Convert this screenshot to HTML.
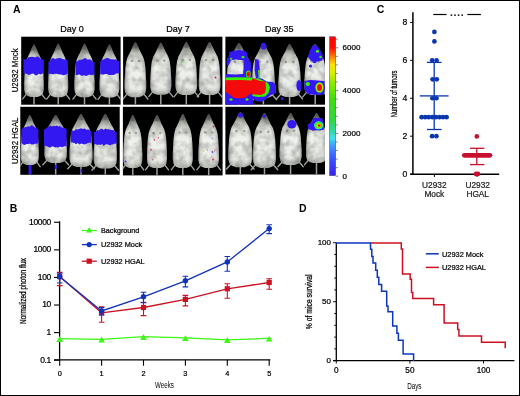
<!DOCTYPE html>
<html><head><meta charset="utf-8"><style>
html,body{margin:0;padding:0;background:#fff;}
svg{display:block;will-change:transform;}
text{font-family:"Liberation Sans",sans-serif;}
</style></head><body>
<svg width="520" height="396" viewBox="0 0 520 396" font-family="Liberation Sans, sans-serif">
<rect width="520" height="396" fill="#fff"/>
<text x="13" y="13.2" font-size="10.5" text-anchor="start" font-weight="bold" fill="#000" >A</text>
<text x="71.9" y="32.1" font-size="9" text-anchor="middle" font-weight="normal" fill="#000" stroke="#000" stroke-width="0.22" >Day 0</text>
<text x="177.9" y="32.1" font-size="9" text-anchor="middle" font-weight="normal" fill="#000" stroke="#000" stroke-width="0.22" >Day 7</text>
<text x="279.3" y="32.1" font-size="9" text-anchor="middle" font-weight="normal" fill="#000" stroke="#000" stroke-width="0.22" >Day 35</text>
<g transform="translate(18.1,70.4) rotate(-90) scale(0.91,1)"><text x="0" y="0" font-size="8.6" text-anchor="middle" stroke="#000" stroke-width="0.2">U2932 Mock</text></g>
<g transform="translate(18.1,140.8) rotate(-90) scale(0.91,1)"><text x="0" y="0" font-size="8.6" text-anchor="middle" stroke="#000" stroke-width="0.2">U2932 HGAL</text></g>
<rect x="21.2" y="36.7" width="99.39999999999999" height="68.0" fill="#000"/>
<rect x="123.1" y="36.7" width="99.30000000000001" height="68.0" fill="#000"/>
<rect x="225.4" y="36.7" width="99.6" height="68.0" fill="#000"/>
<rect x="20.3" y="106.8" width="99.4" height="68.00000000000001" fill="#000"/>
<rect x="122.9" y="106.8" width="99.69999999999999" height="68.60000000000001" fill="#000"/>
<rect x="225.4" y="106.8" width="99.6" height="67.7" fill="#000"/>
<defs><linearGradient id="mv" x1="0" y1="0" x2="0" y2="1">
<stop offset="0" stop-color="#555953"/><stop offset="0.1" stop-color="#8a8e88"/><stop offset="0.2" stop-color="#c0c3bc"/><stop offset="0.32" stop-color="#e2e5de"/><stop offset="0.5" stop-color="#f0f2ee"/><stop offset="0.85" stop-color="#e8eae5"/><stop offset="1" stop-color="#b4b8b1"/></linearGradient>
<filter id="fur" x="0" y="0" width="1" height="1" color-interpolation-filters="sRGB">
<feTurbulence type="fractalNoise" baseFrequency="0.14" numOctaves="2" seed="7"/>
<feColorMatrix type="matrix" values="0 0 0 0 0  0 0 0 0 0  0 0 0 0 0  1.5 0 0 0 -0.55"/>
</filter>
<linearGradient id="mh" x1="0" y1="0" x2="1" y2="0">
<stop offset="0" stop-color="#000" stop-opacity="0.4"/><stop offset="0.1" stop-color="#000" stop-opacity="0.12"/><stop offset="0.25" stop-color="#000" stop-opacity="0"/><stop offset="0.75" stop-color="#000" stop-opacity="0"/><stop offset="0.9" stop-color="#000" stop-opacity="0.12"/><stop offset="1" stop-color="#000" stop-opacity="0.4"/></linearGradient></defs>
<clipPath id="blk0"><rect x="21.2" y="36.7" width="99.40" height="68.00"/></clipPath>
<clipPath id="blk1"><rect x="123.1" y="36.7" width="99.30" height="68.00"/></clipPath>
<clipPath id="blk2"><rect x="225.4" y="36.7" width="99.60" height="68.00"/></clipPath>
<clipPath id="blk3"><rect x="20.3" y="106.8" width="99.40" height="68.00"/></clipPath>
<clipPath id="blk4"><rect x="122.9" y="106.8" width="99.70" height="68.60"/></clipPath>
<clipPath id="blk5"><rect x="225.4" y="106.8" width="99.60" height="67.70"/></clipPath>
<g clip-path="url(#blk0)">
<g>
<path d="M28.12,91.85 L22.73,98.90 M39.88,91.85 L45.27,98.90" stroke="#a4a8a1" stroke-width="1.3" stroke-linecap="round" fill="none"/>
<path d="M34.00,96.10 Q34.00,100.90 34.00,104.70" stroke="#9da19a" stroke-width="1.5" fill="none"/>
<clipPath id="c1"><path d="M34.49,44.60 L35.16,45.91 L35.80,47.23 L36.37,48.54 L36.94,49.85 L37.47,51.16 L38.00,52.48 L38.61,53.79 L39.26,55.10 L39.90,56.41 L40.52,57.73 L41.13,59.04 L41.52,60.35 L41.86,61.66 L42.20,62.98 L42.43,64.29 L42.60,65.60 L42.78,66.91 L42.95,68.22 L43.06,69.54 L43.15,70.85 L43.23,72.16 L43.31,73.48 L43.39,74.79 L43.46,76.10 L43.53,77.41 L43.60,78.72 L43.67,80.04 L43.74,81.35 L43.80,82.66 L43.80,83.97 L43.80,85.29 L43.80,86.60 L43.80,87.91 L43.71,89.22 L43.50,90.54 L43.29,91.85 L42.94,93.16 L42.06,94.47 L40.70,95.79 L37.43,97.10 L30.57,97.10 L27.30,95.79 L25.94,94.47 L25.06,93.16 L24.71,91.85 L24.50,90.54 L24.29,89.22 L24.20,87.91 L24.20,86.60 L24.20,85.29 L24.20,83.97 L24.20,82.66 L24.26,81.35 L24.33,80.04 L24.40,78.72 L24.47,77.41 L24.54,76.10 L24.61,74.79 L24.69,73.48 L24.77,72.16 L24.85,70.85 L24.93,69.54 L25.05,68.22 L25.22,66.91 L25.40,65.60 L25.57,64.29 L25.80,62.98 L26.14,61.66 L26.48,60.35 L26.87,59.04 L27.48,57.73 L28.10,56.41 L28.74,55.10 L29.39,53.79 L30.00,52.48 L30.53,51.16 L31.06,49.85 L31.63,48.54 L32.20,47.23 L32.84,45.91 L33.51,44.60Z"/></clipPath>
<path d="M34.49,44.60 L35.16,45.91 L35.80,47.23 L36.37,48.54 L36.94,49.85 L37.47,51.16 L38.00,52.48 L38.61,53.79 L39.26,55.10 L39.90,56.41 L40.52,57.73 L41.13,59.04 L41.52,60.35 L41.86,61.66 L42.20,62.98 L42.43,64.29 L42.60,65.60 L42.78,66.91 L42.95,68.22 L43.06,69.54 L43.15,70.85 L43.23,72.16 L43.31,73.48 L43.39,74.79 L43.46,76.10 L43.53,77.41 L43.60,78.72 L43.67,80.04 L43.74,81.35 L43.80,82.66 L43.80,83.97 L43.80,85.29 L43.80,86.60 L43.80,87.91 L43.71,89.22 L43.50,90.54 L43.29,91.85 L42.94,93.16 L42.06,94.47 L40.70,95.79 L37.43,97.10 L30.57,97.10 L27.30,95.79 L25.94,94.47 L25.06,93.16 L24.71,91.85 L24.50,90.54 L24.29,89.22 L24.20,87.91 L24.20,86.60 L24.20,85.29 L24.20,83.97 L24.20,82.66 L24.26,81.35 L24.33,80.04 L24.40,78.72 L24.47,77.41 L24.54,76.10 L24.61,74.79 L24.69,73.48 L24.77,72.16 L24.85,70.85 L24.93,69.54 L25.05,68.22 L25.22,66.91 L25.40,65.60 L25.57,64.29 L25.80,62.98 L26.14,61.66 L26.48,60.35 L26.87,59.04 L27.48,57.73 L28.10,56.41 L28.74,55.10 L29.39,53.79 L30.00,52.48 L30.53,51.16 L31.06,49.85 L31.63,48.54 L32.20,47.23 L32.84,45.91 L33.51,44.60Z" fill="url(#mv)"/>
<g clip-path="url(#c1)">
<rect x="23.71" y="44.60" width="20.58" height="52.50" fill="url(#mh)"/>
<rect x="23.71" y="44.60" width="20.58" height="52.50" filter="url(#fur)" opacity="0.32"/>
<ellipse cx="34.00" cy="47.23" rx="2.16" ry="3.68" fill="#3e423c" opacity="0.45"/>
<ellipse cx="31.06" cy="49.85" rx="1.2" ry="1.8" fill="#50544e" opacity="0.4"/>
<ellipse cx="36.94" cy="49.85" rx="1.2" ry="1.8" fill="#50544e" opacity="0.4"/>
<ellipse cx="30.77" cy="62.45" rx="1.3" ry="1.2" fill="#40443e" opacity="0.4"/>
<ellipse cx="37.23" cy="62.45" rx="1.3" ry="1.2" fill="#40443e" opacity="0.4"/>

</g>
</g>
<g>
<path d="M52.20,91.95 L46.70,99.10 M64.20,91.95 L69.70,99.10" stroke="#a4a8a1" stroke-width="1.3" stroke-linecap="round" fill="none"/>
<path d="M58.20,96.30 Q58.20,101.00 58.20,104.70" stroke="#9da19a" stroke-width="1.5" fill="none"/>
<clipPath id="c2"><path d="M58.70,43.80 L59.39,45.14 L60.03,46.47 L60.62,47.81 L61.20,49.15 L61.74,50.49 L62.28,51.82 L62.90,53.16 L63.57,54.50 L64.23,55.84 L64.85,57.17 L65.48,58.51 L65.88,59.85 L66.22,61.19 L66.56,62.52 L66.81,63.86 L66.98,65.20 L67.16,66.54 L67.33,67.88 L67.45,69.21 L67.53,70.55 L67.62,71.89 L67.70,73.22 L67.78,74.56 L67.86,75.90 L67.93,77.24 L68.00,78.57 L68.07,79.91 L68.14,81.25 L68.20,82.59 L68.20,83.92 L68.20,85.26 L68.20,86.60 L68.20,87.94 L68.11,89.28 L67.89,90.61 L67.67,91.95 L67.32,93.29 L66.42,94.62 L65.03,95.96 L61.70,97.30 L54.70,97.30 L51.37,95.96 L49.98,94.62 L49.08,93.29 L48.73,91.95 L48.51,90.61 L48.29,89.28 L48.20,87.94 L48.20,86.60 L48.20,85.26 L48.20,83.92 L48.20,82.59 L48.26,81.25 L48.33,79.91 L48.40,78.57 L48.47,77.24 L48.54,75.90 L48.62,74.56 L48.70,73.22 L48.78,71.89 L48.87,70.55 L48.95,69.21 L49.07,67.88 L49.25,66.54 L49.42,65.20 L49.59,63.86 L49.84,62.52 L50.18,61.19 L50.53,59.85 L50.93,58.51 L51.55,57.17 L52.18,55.84 L52.83,54.50 L53.50,53.16 L54.12,51.82 L54.66,50.49 L55.20,49.15 L55.78,47.81 L56.37,46.47 L57.01,45.14 L57.70,43.80Z"/></clipPath>
<path d="M58.70,43.80 L59.39,45.14 L60.03,46.47 L60.62,47.81 L61.20,49.15 L61.74,50.49 L62.28,51.82 L62.90,53.16 L63.57,54.50 L64.23,55.84 L64.85,57.17 L65.48,58.51 L65.88,59.85 L66.22,61.19 L66.56,62.52 L66.81,63.86 L66.98,65.20 L67.16,66.54 L67.33,67.88 L67.45,69.21 L67.53,70.55 L67.62,71.89 L67.70,73.22 L67.78,74.56 L67.86,75.90 L67.93,77.24 L68.00,78.57 L68.07,79.91 L68.14,81.25 L68.20,82.59 L68.20,83.92 L68.20,85.26 L68.20,86.60 L68.20,87.94 L68.11,89.28 L67.89,90.61 L67.67,91.95 L67.32,93.29 L66.42,94.62 L65.03,95.96 L61.70,97.30 L54.70,97.30 L51.37,95.96 L49.98,94.62 L49.08,93.29 L48.73,91.95 L48.51,90.61 L48.29,89.28 L48.20,87.94 L48.20,86.60 L48.20,85.26 L48.20,83.92 L48.20,82.59 L48.26,81.25 L48.33,79.91 L48.40,78.57 L48.47,77.24 L48.54,75.90 L48.62,74.56 L48.70,73.22 L48.78,71.89 L48.87,70.55 L48.95,69.21 L49.07,67.88 L49.25,66.54 L49.42,65.20 L49.59,63.86 L49.84,62.52 L50.18,61.19 L50.53,59.85 L50.93,58.51 L51.55,57.17 L52.18,55.84 L52.83,54.50 L53.50,53.16 L54.12,51.82 L54.66,50.49 L55.20,49.15 L55.78,47.81 L56.37,46.47 L57.01,45.14 L57.70,43.80Z" fill="url(#mv)"/>
<g clip-path="url(#c2)">
<rect x="47.70" y="43.80" width="21.00" height="53.50" fill="url(#mh)"/>
<rect x="47.70" y="43.80" width="21.00" height="53.50" filter="url(#fur)" opacity="0.32"/>
<ellipse cx="58.20" cy="46.47" rx="2.20" ry="3.75" fill="#3e423c" opacity="0.45"/>
<ellipse cx="55.20" cy="49.15" rx="1.2" ry="1.8" fill="#50544e" opacity="0.4"/>
<ellipse cx="61.20" cy="49.15" rx="1.2" ry="1.8" fill="#50544e" opacity="0.4"/>
<ellipse cx="54.90" cy="61.99" rx="1.3" ry="1.2" fill="#40443e" opacity="0.4"/>
<ellipse cx="61.50" cy="61.99" rx="1.3" ry="1.2" fill="#40443e" opacity="0.4"/>

</g>
</g>
<g>
<path d="M78.44,91.95 L72.89,99.10 M90.56,91.95 L96.11,99.10" stroke="#a4a8a1" stroke-width="1.3" stroke-linecap="round" fill="none"/>
<path d="M84.50,96.30 Q84.50,101.00 84.50,104.70" stroke="#9da19a" stroke-width="1.5" fill="none"/>
<clipPath id="c3"><path d="M85.00,43.80 L85.70,45.14 L86.35,46.47 L86.94,47.81 L87.53,49.15 L88.08,50.49 L88.62,51.82 L89.25,53.16 L89.92,54.50 L90.59,55.84 L91.22,57.17 L91.85,58.51 L92.25,59.85 L92.60,61.19 L92.95,62.52 L93.19,63.86 L93.37,65.20 L93.54,66.54 L93.72,67.88 L93.84,69.21 L93.93,70.55 L94.01,71.89 L94.09,73.22 L94.18,74.56 L94.25,75.90 L94.33,77.24 L94.40,78.57 L94.47,79.91 L94.54,81.25 L94.60,82.59 L94.60,83.92 L94.60,85.26 L94.60,86.60 L94.60,87.94 L94.51,89.28 L94.29,90.61 L94.07,91.95 L93.71,93.29 L92.80,94.62 L91.40,95.96 L88.03,97.30 L80.97,97.30 L77.60,95.96 L76.20,94.62 L75.29,93.29 L74.93,91.95 L74.71,90.61 L74.49,89.28 L74.40,87.94 L74.40,86.60 L74.40,85.26 L74.40,83.92 L74.40,82.59 L74.46,81.25 L74.53,79.91 L74.60,78.57 L74.67,77.24 L74.75,75.90 L74.82,74.56 L74.91,73.22 L74.99,71.89 L75.07,70.55 L75.16,69.21 L75.28,67.88 L75.46,66.54 L75.63,65.20 L75.81,63.86 L76.05,62.52 L76.40,61.19 L76.75,59.85 L77.15,58.51 L77.78,57.17 L78.41,55.84 L79.08,54.50 L79.75,53.16 L80.38,51.82 L80.92,50.49 L81.47,49.15 L82.06,47.81 L82.65,46.47 L83.30,45.14 L84.00,43.80Z"/></clipPath>
<path d="M85.00,43.80 L85.70,45.14 L86.35,46.47 L86.94,47.81 L87.53,49.15 L88.08,50.49 L88.62,51.82 L89.25,53.16 L89.92,54.50 L90.59,55.84 L91.22,57.17 L91.85,58.51 L92.25,59.85 L92.60,61.19 L92.95,62.52 L93.19,63.86 L93.37,65.20 L93.54,66.54 L93.72,67.88 L93.84,69.21 L93.93,70.55 L94.01,71.89 L94.09,73.22 L94.18,74.56 L94.25,75.90 L94.33,77.24 L94.40,78.57 L94.47,79.91 L94.54,81.25 L94.60,82.59 L94.60,83.92 L94.60,85.26 L94.60,86.60 L94.60,87.94 L94.51,89.28 L94.29,90.61 L94.07,91.95 L93.71,93.29 L92.80,94.62 L91.40,95.96 L88.03,97.30 L80.97,97.30 L77.60,95.96 L76.20,94.62 L75.29,93.29 L74.93,91.95 L74.71,90.61 L74.49,89.28 L74.40,87.94 L74.40,86.60 L74.40,85.26 L74.40,83.92 L74.40,82.59 L74.46,81.25 L74.53,79.91 L74.60,78.57 L74.67,77.24 L74.75,75.90 L74.82,74.56 L74.91,73.22 L74.99,71.89 L75.07,70.55 L75.16,69.21 L75.28,67.88 L75.46,66.54 L75.63,65.20 L75.81,63.86 L76.05,62.52 L76.40,61.19 L76.75,59.85 L77.15,58.51 L77.78,57.17 L78.41,55.84 L79.08,54.50 L79.75,53.16 L80.38,51.82 L80.92,50.49 L81.47,49.15 L82.06,47.81 L82.65,46.47 L83.30,45.14 L84.00,43.80Z" fill="url(#mv)"/>
<g clip-path="url(#c3)">
<rect x="73.89" y="43.80" width="21.21" height="53.50" fill="url(#mh)"/>
<rect x="73.89" y="43.80" width="21.21" height="53.50" filter="url(#fur)" opacity="0.32"/>
<ellipse cx="84.50" cy="46.47" rx="2.22" ry="3.75" fill="#3e423c" opacity="0.45"/>
<ellipse cx="81.47" cy="49.15" rx="1.2" ry="1.8" fill="#50544e" opacity="0.4"/>
<ellipse cx="87.53" cy="49.15" rx="1.2" ry="1.8" fill="#50544e" opacity="0.4"/>
<ellipse cx="81.17" cy="61.99" rx="1.3" ry="1.2" fill="#40443e" opacity="0.4"/>
<ellipse cx="87.83" cy="61.99" rx="1.3" ry="1.2" fill="#40443e" opacity="0.4"/>

</g>
</g>
<g>
<path d="M103.46,92.30 L98.02,99.40 M115.34,92.30 L120.79,99.40" stroke="#a4a8a1" stroke-width="1.3" stroke-linecap="round" fill="none"/>
<path d="M109.40,96.60 Q109.40,101.15 109.40,104.70" stroke="#9da19a" stroke-width="1.5" fill="none"/>
<clipPath id="c4"><path d="M109.90,44.60 L110.58,45.93 L111.22,47.25 L111.79,48.58 L112.37,49.90 L112.91,51.23 L113.44,52.55 L114.05,53.88 L114.71,55.20 L115.36,56.53 L115.98,57.85 L116.60,59.18 L117.00,60.50 L117.34,61.83 L117.68,63.15 L117.92,64.47 L118.09,65.80 L118.27,67.12 L118.44,68.45 L118.56,69.78 L118.64,71.10 L118.72,72.43 L118.81,73.75 L118.89,75.08 L118.96,76.40 L119.03,77.72 L119.10,79.05 L119.17,80.38 L119.24,81.70 L119.30,83.03 L119.30,84.35 L119.30,85.68 L119.30,87.00 L119.30,88.32 L119.21,89.65 L119.00,90.97 L118.78,92.30 L118.43,93.62 L117.54,94.95 L116.17,96.28 L112.87,97.60 L105.94,97.60 L102.64,96.28 L101.26,94.95 L100.37,93.62 L100.02,92.30 L99.80,90.97 L99.59,89.65 L99.50,88.32 L99.50,87.00 L99.50,85.68 L99.50,84.35 L99.50,83.03 L99.56,81.70 L99.63,80.38 L99.70,79.05 L99.77,77.72 L99.84,76.40 L99.91,75.08 L100.00,73.75 L100.08,72.43 L100.16,71.10 L100.24,69.78 L100.36,68.45 L100.53,67.12 L100.71,65.80 L100.88,64.47 L101.12,63.15 L101.46,61.83 L101.80,60.50 L102.20,59.18 L102.82,57.85 L103.44,56.53 L104.09,55.20 L104.75,53.88 L105.36,52.55 L105.89,51.23 L106.43,49.90 L107.01,48.58 L107.59,47.25 L108.22,45.93 L108.91,44.60Z"/></clipPath>
<path d="M109.90,44.60 L110.58,45.93 L111.22,47.25 L111.79,48.58 L112.37,49.90 L112.91,51.23 L113.44,52.55 L114.05,53.88 L114.71,55.20 L115.36,56.53 L115.98,57.85 L116.60,59.18 L117.00,60.50 L117.34,61.83 L117.68,63.15 L117.92,64.47 L118.09,65.80 L118.27,67.12 L118.44,68.45 L118.56,69.78 L118.64,71.10 L118.72,72.43 L118.81,73.75 L118.89,75.08 L118.96,76.40 L119.03,77.72 L119.10,79.05 L119.17,80.38 L119.24,81.70 L119.30,83.03 L119.30,84.35 L119.30,85.68 L119.30,87.00 L119.30,88.32 L119.21,89.65 L119.00,90.97 L118.78,92.30 L118.43,93.62 L117.54,94.95 L116.17,96.28 L112.87,97.60 L105.94,97.60 L102.64,96.28 L101.26,94.95 L100.37,93.62 L100.02,92.30 L99.80,90.97 L99.59,89.65 L99.50,88.32 L99.50,87.00 L99.50,85.68 L99.50,84.35 L99.50,83.03 L99.56,81.70 L99.63,80.38 L99.70,79.05 L99.77,77.72 L99.84,76.40 L99.91,75.08 L100.00,73.75 L100.08,72.43 L100.16,71.10 L100.24,69.78 L100.36,68.45 L100.53,67.12 L100.71,65.80 L100.88,64.47 L101.12,63.15 L101.46,61.83 L101.80,60.50 L102.20,59.18 L102.82,57.85 L103.44,56.53 L104.09,55.20 L104.75,53.88 L105.36,52.55 L105.89,51.23 L106.43,49.90 L107.01,48.58 L107.59,47.25 L108.22,45.93 L108.91,44.60Z" fill="url(#mv)"/>
<g clip-path="url(#c4)">
<rect x="99.01" y="44.60" width="20.79" height="53.00" fill="url(#mh)"/>
<rect x="99.01" y="44.60" width="20.79" height="53.00" filter="url(#fur)" opacity="0.32"/>
<ellipse cx="109.40" cy="47.25" rx="2.18" ry="3.71" fill="#3e423c" opacity="0.45"/>
<ellipse cx="106.43" cy="49.90" rx="1.2" ry="1.8" fill="#50544e" opacity="0.4"/>
<ellipse cx="112.37" cy="49.90" rx="1.2" ry="1.8" fill="#50544e" opacity="0.4"/>
<ellipse cx="106.13" cy="62.62" rx="1.3" ry="1.2" fill="#40443e" opacity="0.4"/>
<ellipse cx="112.67" cy="62.62" rx="1.3" ry="1.2" fill="#40443e" opacity="0.4"/>

</g>
</g>
<path d="M23.5,59.3 L25.2,59.6 L26.9,58.7 L28.6,57.2 L30.3,57.1 L32.0,56.8 L33.6,57.1 L35.3,57.4 L37.0,56.4 L38.7,56.8 L40.4,58.8 L42.1,58.9 L43.8,60.5 L43.8,72.8 L42.1,73.8 L40.4,74.5 L38.7,73.8 L37.0,75.2 L35.3,75.2 L33.6,73.7 L32.0,73.6 L30.3,74.5 L28.6,75.1 L26.9,73.9 L25.2,73.4 L23.5,73.6Z" fill="#3418f2"/>
<path d="M48.4,62.0 L50.0,61.0 L51.6,58.6 L53.2,58.1 L54.9,59.0 L56.5,58.5 L58.1,58.3 L59.7,57.7 L61.3,58.5 L62.9,59.0 L64.6,59.6 L66.2,59.6 L67.8,61.1 L67.8,73.6 L66.2,74.4 L64.6,75.1 L62.9,75.2 L61.3,74.6 L59.7,74.5 L58.1,74.2 L56.5,73.7 L54.9,73.7 L53.2,74.3 L51.6,73.9 L50.0,73.8 L48.4,74.5Z" fill="#3418f2"/>
<path d="M75.6,61.7 L77.3,61.2 L79.0,60.1 L80.8,59.8 L82.5,59.5 L84.2,58.2 L85.9,58.2 L87.6,59.8 L89.3,59.2 L91.1,59.8 L92.8,62.0 L94.5,62.1 L94.5,75.1 L92.8,74.7 L91.1,75.2 L89.3,74.5 L87.6,75.5 L85.9,76.0 L84.2,75.3 L82.5,75.7 L80.8,75.4 L79.0,74.2 L77.3,75.2 L75.6,74.7Z" fill="#3418f2"/>
<path d="M100.2,61.2 L101.9,59.9 L103.7,59.6 L105.4,58.5 L107.1,58.0 L108.8,58.3 L110.6,59.3 L112.3,59.3 L114.0,59.6 L115.7,59.3 L117.5,60.7 L119.2,61.3 L119.2,73.1 L117.5,73.3 L115.7,73.7 L114.0,75.1 L112.3,75.0 L110.6,75.0 L108.8,75.0 L107.1,73.9 L105.4,74.0 L103.7,74.4 L101.9,74.4 L100.2,74.3Z" fill="#3418f2"/>
</g>
<g clip-path="url(#blk1)">
<g>
<path d="M128.92,91.70 L122.98,99.00 M141.88,91.70 L147.82,99.00" stroke="#a4a8a1" stroke-width="1.3" stroke-linecap="round" fill="none"/>
<path d="M135.40,96.20 Q135.40,100.95 135.40,104.70" stroke="#9da19a" stroke-width="1.5" fill="none"/>
<clipPath id="c5"><path d="M135.94,42.20 L136.68,43.58 L137.38,44.95 L138.01,46.33 L138.64,47.70 L139.22,49.08 L139.81,50.45 L140.48,51.83 L141.20,53.20 L141.91,54.58 L142.58,55.95 L143.26,57.33 L143.69,58.70 L144.06,60.08 L144.43,61.45 L144.69,62.83 L144.88,64.20 L145.07,65.58 L145.26,66.95 L145.39,68.33 L145.48,69.70 L145.57,71.08 L145.66,72.45 L145.75,73.83 L145.83,75.20 L145.91,76.58 L145.98,77.95 L146.06,79.33 L146.14,80.70 L146.20,82.08 L146.20,83.45 L146.20,84.83 L146.20,86.20 L146.20,87.58 L146.11,88.95 L145.87,90.33 L145.63,91.70 L145.25,93.08 L144.28,94.45 L142.78,95.83 L139.18,97.20 L131.62,97.20 L128.02,95.83 L126.52,94.45 L125.55,93.08 L125.17,91.70 L124.93,90.33 L124.69,88.95 L124.60,87.58 L124.60,86.20 L124.60,84.83 L124.60,83.45 L124.60,82.08 L124.66,80.70 L124.74,79.33 L124.82,77.95 L124.89,76.58 L124.97,75.20 L125.05,73.83 L125.14,72.45 L125.23,71.08 L125.32,69.70 L125.41,68.33 L125.54,66.95 L125.73,65.58 L125.92,64.20 L126.11,62.83 L126.37,61.45 L126.74,60.08 L127.11,58.70 L127.54,57.33 L128.22,55.95 L128.89,54.58 L129.60,53.20 L130.32,51.83 L130.99,50.45 L131.58,49.08 L132.16,47.70 L132.79,46.33 L133.42,44.95 L134.12,43.58 L134.86,42.20Z"/></clipPath>
<path d="M135.94,42.20 L136.68,43.58 L137.38,44.95 L138.01,46.33 L138.64,47.70 L139.22,49.08 L139.81,50.45 L140.48,51.83 L141.20,53.20 L141.91,54.58 L142.58,55.95 L143.26,57.33 L143.69,58.70 L144.06,60.08 L144.43,61.45 L144.69,62.83 L144.88,64.20 L145.07,65.58 L145.26,66.95 L145.39,68.33 L145.48,69.70 L145.57,71.08 L145.66,72.45 L145.75,73.83 L145.83,75.20 L145.91,76.58 L145.98,77.95 L146.06,79.33 L146.14,80.70 L146.20,82.08 L146.20,83.45 L146.20,84.83 L146.20,86.20 L146.20,87.58 L146.11,88.95 L145.87,90.33 L145.63,91.70 L145.25,93.08 L144.28,94.45 L142.78,95.83 L139.18,97.20 L131.62,97.20 L128.02,95.83 L126.52,94.45 L125.55,93.08 L125.17,91.70 L124.93,90.33 L124.69,88.95 L124.60,87.58 L124.60,86.20 L124.60,84.83 L124.60,83.45 L124.60,82.08 L124.66,80.70 L124.74,79.33 L124.82,77.95 L124.89,76.58 L124.97,75.20 L125.05,73.83 L125.14,72.45 L125.23,71.08 L125.32,69.70 L125.41,68.33 L125.54,66.95 L125.73,65.58 L125.92,64.20 L126.11,62.83 L126.37,61.45 L126.74,60.08 L127.11,58.70 L127.54,57.33 L128.22,55.95 L128.89,54.58 L129.60,53.20 L130.32,51.83 L130.99,50.45 L131.58,49.08 L132.16,47.70 L132.79,46.33 L133.42,44.95 L134.12,43.58 L134.86,42.20Z" fill="url(#mv)"/>
<g clip-path="url(#c5)">
<rect x="124.06" y="42.20" width="22.68" height="55.00" fill="url(#mh)"/>
<rect x="124.06" y="42.20" width="22.68" height="55.00" filter="url(#fur)" opacity="0.32"/>
<ellipse cx="135.40" cy="44.95" rx="2.38" ry="3.85" fill="#3e423c" opacity="0.45"/>
<ellipse cx="132.16" cy="47.70" rx="1.2" ry="1.8" fill="#50544e" opacity="0.4"/>
<ellipse cx="138.64" cy="47.70" rx="1.2" ry="1.8" fill="#50544e" opacity="0.4"/>
<ellipse cx="131.84" cy="60.90" rx="1.3" ry="1.2" fill="#40443e" opacity="0.4"/>
<ellipse cx="138.96" cy="60.90" rx="1.3" ry="1.2" fill="#40443e" opacity="0.4"/>

</g>
</g>
<g>
<path d="M154.50,89.60 L148.73,96.60 M167.10,89.60 L172.88,96.60" stroke="#a4a8a1" stroke-width="1.3" stroke-linecap="round" fill="none"/>
<path d="M160.80,93.80 Q160.80,99.75 160.80,104.70" stroke="#9da19a" stroke-width="1.5" fill="none"/>
<clipPath id="c6"><path d="M161.33,42.80 L162.05,44.10 L162.73,45.40 L163.34,46.70 L163.95,48.00 L164.52,49.30 L165.09,50.60 L165.74,51.90 L166.44,53.20 L167.13,54.50 L167.78,55.80 L168.44,57.10 L168.86,58.40 L169.22,59.70 L169.58,61.00 L169.84,62.30 L170.02,63.60 L170.20,64.90 L170.39,66.20 L170.51,67.50 L170.60,68.80 L170.69,70.10 L170.78,71.40 L170.86,72.70 L170.94,74.00 L171.02,75.30 L171.09,76.60 L171.17,77.90 L171.24,79.20 L171.30,80.50 L171.30,81.80 L171.30,83.10 L171.30,84.40 L171.30,85.70 L171.21,87.00 L170.98,88.30 L170.75,89.60 L170.38,90.90 L169.43,92.20 L167.98,93.50 L164.48,94.80 L157.12,94.80 L153.62,93.50 L152.17,92.20 L151.22,90.90 L150.85,89.60 L150.62,88.30 L150.39,87.00 L150.30,85.70 L150.30,84.40 L150.30,83.10 L150.30,81.80 L150.30,80.50 L150.36,79.20 L150.44,77.90 L150.51,76.60 L150.59,75.30 L150.66,74.00 L150.74,72.70 L150.83,71.40 L150.91,70.10 L151.00,68.80 L151.09,67.50 L151.21,66.20 L151.40,64.90 L151.58,63.60 L151.76,62.30 L152.02,61.00 L152.38,59.70 L152.74,58.40 L153.16,57.10 L153.82,55.80 L154.47,54.50 L155.17,53.20 L155.87,51.90 L156.51,50.60 L157.08,49.30 L157.65,48.00 L158.26,46.70 L158.88,45.40 L159.55,44.10 L160.28,42.80Z"/></clipPath>
<path d="M161.33,42.80 L162.05,44.10 L162.73,45.40 L163.34,46.70 L163.95,48.00 L164.52,49.30 L165.09,50.60 L165.74,51.90 L166.44,53.20 L167.13,54.50 L167.78,55.80 L168.44,57.10 L168.86,58.40 L169.22,59.70 L169.58,61.00 L169.84,62.30 L170.02,63.60 L170.20,64.90 L170.39,66.20 L170.51,67.50 L170.60,68.80 L170.69,70.10 L170.78,71.40 L170.86,72.70 L170.94,74.00 L171.02,75.30 L171.09,76.60 L171.17,77.90 L171.24,79.20 L171.30,80.50 L171.30,81.80 L171.30,83.10 L171.30,84.40 L171.30,85.70 L171.21,87.00 L170.98,88.30 L170.75,89.60 L170.38,90.90 L169.43,92.20 L167.98,93.50 L164.48,94.80 L157.12,94.80 L153.62,93.50 L152.17,92.20 L151.22,90.90 L150.85,89.60 L150.62,88.30 L150.39,87.00 L150.30,85.70 L150.30,84.40 L150.30,83.10 L150.30,81.80 L150.30,80.50 L150.36,79.20 L150.44,77.90 L150.51,76.60 L150.59,75.30 L150.66,74.00 L150.74,72.70 L150.83,71.40 L150.91,70.10 L151.00,68.80 L151.09,67.50 L151.21,66.20 L151.40,64.90 L151.58,63.60 L151.76,62.30 L152.02,61.00 L152.38,59.70 L152.74,58.40 L153.16,57.10 L153.82,55.80 L154.47,54.50 L155.17,53.20 L155.87,51.90 L156.51,50.60 L157.08,49.30 L157.65,48.00 L158.26,46.70 L158.88,45.40 L159.55,44.10 L160.28,42.80Z" fill="url(#mv)"/>
<g clip-path="url(#c6)">
<rect x="149.78" y="42.80" width="22.05" height="52.00" fill="url(#mh)"/>
<rect x="149.78" y="42.80" width="22.05" height="52.00" filter="url(#fur)" opacity="0.32"/>
<ellipse cx="160.80" cy="45.40" rx="2.31" ry="3.64" fill="#3e423c" opacity="0.45"/>
<ellipse cx="157.65" cy="48.00" rx="1.2" ry="1.8" fill="#50544e" opacity="0.4"/>
<ellipse cx="163.95" cy="48.00" rx="1.2" ry="1.8" fill="#50544e" opacity="0.4"/>
<ellipse cx="157.34" cy="60.48" rx="1.3" ry="1.2" fill="#40443e" opacity="0.4"/>
<ellipse cx="164.27" cy="60.48" rx="1.3" ry="1.2" fill="#40443e" opacity="0.4"/>

</g>
</g>
<g>
<path d="M179.82,89.70 L173.88,96.80 M192.78,89.70 L198.72,96.80" stroke="#a4a8a1" stroke-width="1.3" stroke-linecap="round" fill="none"/>
<path d="M186.30,94.00 Q186.30,99.85 186.30,104.70" stroke="#9da19a" stroke-width="1.5" fill="none"/>
<clipPath id="c7"><path d="M186.84,42.00 L187.58,43.33 L188.28,44.65 L188.91,45.98 L189.54,47.30 L190.12,48.62 L190.71,49.95 L191.38,51.27 L192.10,52.60 L192.81,53.92 L193.48,55.25 L194.16,56.58 L194.59,57.90 L194.96,59.23 L195.33,60.55 L195.59,61.88 L195.78,63.20 L195.97,64.53 L196.16,65.85 L196.29,67.17 L196.38,68.50 L196.47,69.83 L196.56,71.15 L196.65,72.47 L196.73,73.80 L196.81,75.12 L196.88,76.45 L196.96,77.78 L197.04,79.10 L197.10,80.42 L197.10,81.75 L197.10,83.08 L197.10,84.40 L197.10,85.72 L197.01,87.05 L196.77,88.38 L196.53,89.70 L196.15,91.03 L195.18,92.35 L193.68,93.67 L190.08,95.00 L182.52,95.00 L178.92,93.67 L177.42,92.35 L176.45,91.03 L176.07,89.70 L175.83,88.38 L175.59,87.05 L175.50,85.72 L175.50,84.40 L175.50,83.08 L175.50,81.75 L175.50,80.42 L175.56,79.10 L175.64,77.78 L175.72,76.45 L175.79,75.12 L175.87,73.80 L175.95,72.47 L176.04,71.15 L176.13,69.83 L176.22,68.50 L176.31,67.17 L176.44,65.85 L176.63,64.53 L176.82,63.20 L177.01,61.88 L177.27,60.55 L177.64,59.23 L178.01,57.90 L178.44,56.58 L179.12,55.25 L179.79,53.92 L180.50,52.60 L181.22,51.27 L181.89,49.95 L182.48,48.62 L183.06,47.30 L183.69,45.98 L184.32,44.65 L185.02,43.33 L185.76,42.00Z"/></clipPath>
<path d="M186.84,42.00 L187.58,43.33 L188.28,44.65 L188.91,45.98 L189.54,47.30 L190.12,48.62 L190.71,49.95 L191.38,51.27 L192.10,52.60 L192.81,53.92 L193.48,55.25 L194.16,56.58 L194.59,57.90 L194.96,59.23 L195.33,60.55 L195.59,61.88 L195.78,63.20 L195.97,64.53 L196.16,65.85 L196.29,67.17 L196.38,68.50 L196.47,69.83 L196.56,71.15 L196.65,72.47 L196.73,73.80 L196.81,75.12 L196.88,76.45 L196.96,77.78 L197.04,79.10 L197.10,80.42 L197.10,81.75 L197.10,83.08 L197.10,84.40 L197.10,85.72 L197.01,87.05 L196.77,88.38 L196.53,89.70 L196.15,91.03 L195.18,92.35 L193.68,93.67 L190.08,95.00 L182.52,95.00 L178.92,93.67 L177.42,92.35 L176.45,91.03 L176.07,89.70 L175.83,88.38 L175.59,87.05 L175.50,85.72 L175.50,84.40 L175.50,83.08 L175.50,81.75 L175.50,80.42 L175.56,79.10 L175.64,77.78 L175.72,76.45 L175.79,75.12 L175.87,73.80 L175.95,72.47 L176.04,71.15 L176.13,69.83 L176.22,68.50 L176.31,67.17 L176.44,65.85 L176.63,64.53 L176.82,63.20 L177.01,61.88 L177.27,60.55 L177.64,59.23 L178.01,57.90 L178.44,56.58 L179.12,55.25 L179.79,53.92 L180.50,52.60 L181.22,51.27 L181.89,49.95 L182.48,48.62 L183.06,47.30 L183.69,45.98 L184.32,44.65 L185.02,43.33 L185.76,42.00Z" fill="url(#mv)"/>
<g clip-path="url(#c7)">
<rect x="174.96" y="42.00" width="22.68" height="53.00" fill="url(#mh)"/>
<rect x="174.96" y="42.00" width="22.68" height="53.00" filter="url(#fur)" opacity="0.32"/>
<ellipse cx="186.30" cy="44.65" rx="2.38" ry="3.71" fill="#3e423c" opacity="0.45"/>
<ellipse cx="183.06" cy="47.30" rx="1.2" ry="1.8" fill="#50544e" opacity="0.4"/>
<ellipse cx="189.54" cy="47.30" rx="1.2" ry="1.8" fill="#50544e" opacity="0.4"/>
<ellipse cx="182.74" cy="60.02" rx="1.3" ry="1.2" fill="#40443e" opacity="0.4"/>
<ellipse cx="189.86" cy="60.02" rx="1.3" ry="1.2" fill="#40443e" opacity="0.4"/>

</g>
</g>
<g>
<path d="M203.12,89.70 L197.18,96.80 M216.08,89.70 L222.02,96.80" stroke="#a4a8a1" stroke-width="1.3" stroke-linecap="round" fill="none"/>
<path d="M209.60,94.00 Q209.60,99.85 209.60,104.70" stroke="#9da19a" stroke-width="1.5" fill="none"/>
<clipPath id="c8"><path d="M210.14,42.00 L210.88,43.33 L211.58,44.65 L212.21,45.98 L212.84,47.30 L213.42,48.62 L214.01,49.95 L214.68,51.27 L215.40,52.60 L216.11,53.92 L216.78,55.25 L217.46,56.58 L217.89,57.90 L218.26,59.23 L218.63,60.55 L218.89,61.88 L219.08,63.20 L219.27,64.53 L219.46,65.85 L219.59,67.17 L219.68,68.50 L219.77,69.83 L219.86,71.15 L219.95,72.47 L220.03,73.80 L220.11,75.12 L220.18,76.45 L220.26,77.78 L220.34,79.10 L220.40,80.42 L220.40,81.75 L220.40,83.08 L220.40,84.40 L220.40,85.72 L220.31,87.05 L220.07,88.38 L219.83,89.70 L219.45,91.03 L218.48,92.35 L216.98,93.67 L213.38,95.00 L205.82,95.00 L202.22,93.67 L200.72,92.35 L199.75,91.03 L199.37,89.70 L199.13,88.38 L198.89,87.05 L198.80,85.72 L198.80,84.40 L198.80,83.08 L198.80,81.75 L198.80,80.42 L198.86,79.10 L198.94,77.78 L199.02,76.45 L199.09,75.12 L199.17,73.80 L199.25,72.47 L199.34,71.15 L199.43,69.83 L199.52,68.50 L199.61,67.17 L199.74,65.85 L199.93,64.53 L200.12,63.20 L200.31,61.88 L200.57,60.55 L200.94,59.23 L201.31,57.90 L201.74,56.58 L202.42,55.25 L203.09,53.92 L203.80,52.60 L204.52,51.27 L205.19,49.95 L205.78,48.62 L206.36,47.30 L206.99,45.98 L207.62,44.65 L208.32,43.33 L209.06,42.00Z"/></clipPath>
<path d="M210.14,42.00 L210.88,43.33 L211.58,44.65 L212.21,45.98 L212.84,47.30 L213.42,48.62 L214.01,49.95 L214.68,51.27 L215.40,52.60 L216.11,53.92 L216.78,55.25 L217.46,56.58 L217.89,57.90 L218.26,59.23 L218.63,60.55 L218.89,61.88 L219.08,63.20 L219.27,64.53 L219.46,65.85 L219.59,67.17 L219.68,68.50 L219.77,69.83 L219.86,71.15 L219.95,72.47 L220.03,73.80 L220.11,75.12 L220.18,76.45 L220.26,77.78 L220.34,79.10 L220.40,80.42 L220.40,81.75 L220.40,83.08 L220.40,84.40 L220.40,85.72 L220.31,87.05 L220.07,88.38 L219.83,89.70 L219.45,91.03 L218.48,92.35 L216.98,93.67 L213.38,95.00 L205.82,95.00 L202.22,93.67 L200.72,92.35 L199.75,91.03 L199.37,89.70 L199.13,88.38 L198.89,87.05 L198.80,85.72 L198.80,84.40 L198.80,83.08 L198.80,81.75 L198.80,80.42 L198.86,79.10 L198.94,77.78 L199.02,76.45 L199.09,75.12 L199.17,73.80 L199.25,72.47 L199.34,71.15 L199.43,69.83 L199.52,68.50 L199.61,67.17 L199.74,65.85 L199.93,64.53 L200.12,63.20 L200.31,61.88 L200.57,60.55 L200.94,59.23 L201.31,57.90 L201.74,56.58 L202.42,55.25 L203.09,53.92 L203.80,52.60 L204.52,51.27 L205.19,49.95 L205.78,48.62 L206.36,47.30 L206.99,45.98 L207.62,44.65 L208.32,43.33 L209.06,42.00Z" fill="url(#mv)"/>
<g clip-path="url(#c8)">
<rect x="198.26" y="42.00" width="22.68" height="53.00" fill="url(#mh)"/>
<rect x="198.26" y="42.00" width="22.68" height="53.00" filter="url(#fur)" opacity="0.32"/>
<ellipse cx="209.60" cy="44.65" rx="2.38" ry="3.71" fill="#3e423c" opacity="0.45"/>
<ellipse cx="206.36" cy="47.30" rx="1.2" ry="1.8" fill="#50544e" opacity="0.4"/>
<ellipse cx="212.84" cy="47.30" rx="1.2" ry="1.8" fill="#50544e" opacity="0.4"/>
<ellipse cx="206.04" cy="60.02" rx="1.3" ry="1.2" fill="#40443e" opacity="0.4"/>
<ellipse cx="213.16" cy="60.02" rx="1.3" ry="1.2" fill="#40443e" opacity="0.4"/>

</g>
</g>




</g>
<g clip-path="url(#blk2)">
<g>
<path d="M231.50,92.50 L224.62,99.80 M246.50,92.50 L253.38,99.80" stroke="#a4a8a1" stroke-width="1.3" stroke-linecap="round" fill="none"/>
<path d="M239.00,97.00 Q239.00,101.35 239.00,104.70" stroke="#9da19a" stroke-width="1.5" fill="none"/>
<clipPath id="c9"><path d="M239.62,43.00 L240.48,44.38 L241.29,45.75 L242.02,47.12 L242.75,48.50 L243.43,49.88 L244.10,51.25 L244.88,52.62 L245.71,54.00 L246.53,55.38 L247.31,56.75 L248.09,58.12 L248.59,59.50 L249.02,60.88 L249.45,62.25 L249.76,63.62 L249.97,65.00 L250.19,66.38 L250.41,67.75 L250.56,69.12 L250.67,70.50 L250.77,71.88 L250.88,73.25 L250.98,74.62 L251.07,76.00 L251.16,77.38 L251.25,78.75 L251.34,80.12 L251.43,81.50 L251.50,82.88 L251.50,84.25 L251.50,85.62 L251.50,87.00 L251.50,88.38 L251.39,89.75 L251.12,91.12 L250.84,92.50 L250.40,93.88 L249.28,95.25 L247.54,96.62 L243.38,98.00 L234.62,98.00 L230.46,96.62 L228.72,95.25 L227.60,93.88 L227.16,92.50 L226.88,91.12 L226.61,89.75 L226.50,88.38 L226.50,87.00 L226.50,85.62 L226.50,84.25 L226.50,82.88 L226.57,81.50 L226.66,80.12 L226.75,78.75 L226.84,77.38 L226.93,76.00 L227.02,74.62 L227.12,73.25 L227.23,71.88 L227.33,70.50 L227.44,69.12 L227.59,67.75 L227.81,66.38 L228.03,65.00 L228.24,63.62 L228.55,62.25 L228.98,60.88 L229.41,59.50 L229.91,58.12 L230.69,56.75 L231.47,55.38 L232.29,54.00 L233.12,52.62 L233.90,51.25 L234.57,49.88 L235.25,48.50 L235.98,47.12 L236.71,45.75 L237.52,44.38 L238.38,43.00Z"/></clipPath>
<path d="M239.62,43.00 L240.48,44.38 L241.29,45.75 L242.02,47.12 L242.75,48.50 L243.43,49.88 L244.10,51.25 L244.88,52.62 L245.71,54.00 L246.53,55.38 L247.31,56.75 L248.09,58.12 L248.59,59.50 L249.02,60.88 L249.45,62.25 L249.76,63.62 L249.97,65.00 L250.19,66.38 L250.41,67.75 L250.56,69.12 L250.67,70.50 L250.77,71.88 L250.88,73.25 L250.98,74.62 L251.07,76.00 L251.16,77.38 L251.25,78.75 L251.34,80.12 L251.43,81.50 L251.50,82.88 L251.50,84.25 L251.50,85.62 L251.50,87.00 L251.50,88.38 L251.39,89.75 L251.12,91.12 L250.84,92.50 L250.40,93.88 L249.28,95.25 L247.54,96.62 L243.38,98.00 L234.62,98.00 L230.46,96.62 L228.72,95.25 L227.60,93.88 L227.16,92.50 L226.88,91.12 L226.61,89.75 L226.50,88.38 L226.50,87.00 L226.50,85.62 L226.50,84.25 L226.50,82.88 L226.57,81.50 L226.66,80.12 L226.75,78.75 L226.84,77.38 L226.93,76.00 L227.02,74.62 L227.12,73.25 L227.23,71.88 L227.33,70.50 L227.44,69.12 L227.59,67.75 L227.81,66.38 L228.03,65.00 L228.24,63.62 L228.55,62.25 L228.98,60.88 L229.41,59.50 L229.91,58.12 L230.69,56.75 L231.47,55.38 L232.29,54.00 L233.12,52.62 L233.90,51.25 L234.57,49.88 L235.25,48.50 L235.98,47.12 L236.71,45.75 L237.52,44.38 L238.38,43.00Z" fill="url(#mv)"/>
<g clip-path="url(#c9)">
<rect x="225.88" y="43.00" width="26.25" height="55.00" fill="url(#mh)"/>
<rect x="225.88" y="43.00" width="26.25" height="55.00" filter="url(#fur)" opacity="0.32"/>
<ellipse cx="239.00" cy="45.75" rx="2.75" ry="3.85" fill="#3e423c" opacity="0.45"/>
<ellipse cx="235.25" cy="48.50" rx="1.2" ry="1.8" fill="#50544e" opacity="0.4"/>
<ellipse cx="242.75" cy="48.50" rx="1.2" ry="1.8" fill="#50544e" opacity="0.4"/>
<ellipse cx="234.88" cy="61.70" rx="1.3" ry="1.2" fill="#40443e" opacity="0.4"/>
<ellipse cx="243.12" cy="61.70" rx="1.3" ry="1.2" fill="#40443e" opacity="0.4"/>

</g>
</g>
<g>
<path d="M256.50,92.50 L250.17,99.80 M270.30,92.50 L276.62,99.80" stroke="#a4a8a1" stroke-width="1.3" stroke-linecap="round" fill="none"/>
<path d="M263.40,97.00 Q263.40,101.35 263.40,104.70" stroke="#9da19a" stroke-width="1.5" fill="none"/>
<clipPath id="c10"><path d="M263.97,43.00 L264.77,44.38 L265.51,45.75 L266.18,47.12 L266.85,48.50 L267.47,49.88 L268.10,51.25 L268.80,52.62 L269.57,54.00 L270.33,55.38 L271.05,56.75 L271.77,58.12 L272.23,59.50 L272.62,60.88 L273.02,62.25 L273.30,63.62 L273.50,65.00 L273.70,66.38 L273.90,67.75 L274.04,69.12 L274.13,70.50 L274.23,71.88 L274.32,73.25 L274.42,74.62 L274.51,76.00 L274.59,77.38 L274.67,78.75 L274.75,80.12 L274.83,81.50 L274.90,82.88 L274.90,84.25 L274.90,85.62 L274.90,87.00 L274.90,88.38 L274.80,89.75 L274.55,91.12 L274.30,92.50 L273.89,93.88 L272.85,95.25 L271.26,96.62 L267.42,98.00 L259.38,98.00 L255.54,96.62 L253.95,95.25 L252.91,93.88 L252.50,92.50 L252.25,91.12 L252.00,89.75 L251.90,88.38 L251.90,87.00 L251.90,85.62 L251.90,84.25 L251.90,82.88 L251.97,81.50 L252.05,80.12 L252.13,78.75 L252.21,77.38 L252.29,76.00 L252.38,74.62 L252.47,73.25 L252.57,71.88 L252.67,70.50 L252.76,69.12 L252.90,67.75 L253.10,66.38 L253.30,65.00 L253.50,63.62 L253.78,62.25 L254.18,60.88 L254.57,59.50 L255.03,58.12 L255.75,56.75 L256.47,55.38 L257.23,54.00 L258.00,52.62 L258.70,51.25 L259.33,49.88 L259.95,48.50 L260.62,47.12 L261.29,45.75 L262.03,44.38 L262.82,43.00Z"/></clipPath>
<path d="M263.97,43.00 L264.77,44.38 L265.51,45.75 L266.18,47.12 L266.85,48.50 L267.47,49.88 L268.10,51.25 L268.80,52.62 L269.57,54.00 L270.33,55.38 L271.05,56.75 L271.77,58.12 L272.23,59.50 L272.62,60.88 L273.02,62.25 L273.30,63.62 L273.50,65.00 L273.70,66.38 L273.90,67.75 L274.04,69.12 L274.13,70.50 L274.23,71.88 L274.32,73.25 L274.42,74.62 L274.51,76.00 L274.59,77.38 L274.67,78.75 L274.75,80.12 L274.83,81.50 L274.90,82.88 L274.90,84.25 L274.90,85.62 L274.90,87.00 L274.90,88.38 L274.80,89.75 L274.55,91.12 L274.30,92.50 L273.89,93.88 L272.85,95.25 L271.26,96.62 L267.42,98.00 L259.38,98.00 L255.54,96.62 L253.95,95.25 L252.91,93.88 L252.50,92.50 L252.25,91.12 L252.00,89.75 L251.90,88.38 L251.90,87.00 L251.90,85.62 L251.90,84.25 L251.90,82.88 L251.97,81.50 L252.05,80.12 L252.13,78.75 L252.21,77.38 L252.29,76.00 L252.38,74.62 L252.47,73.25 L252.57,71.88 L252.67,70.50 L252.76,69.12 L252.90,67.75 L253.10,66.38 L253.30,65.00 L253.50,63.62 L253.78,62.25 L254.18,60.88 L254.57,59.50 L255.03,58.12 L255.75,56.75 L256.47,55.38 L257.23,54.00 L258.00,52.62 L258.70,51.25 L259.33,49.88 L259.95,48.50 L260.62,47.12 L261.29,45.75 L262.03,44.38 L262.82,43.00Z" fill="url(#mv)"/>
<g clip-path="url(#c10)">
<rect x="251.32" y="43.00" width="24.15" height="55.00" fill="url(#mh)"/>
<rect x="251.32" y="43.00" width="24.15" height="55.00" filter="url(#fur)" opacity="0.32"/>
<ellipse cx="263.40" cy="45.75" rx="2.53" ry="3.85" fill="#3e423c" opacity="0.45"/>
<ellipse cx="259.95" cy="48.50" rx="1.2" ry="1.8" fill="#50544e" opacity="0.4"/>
<ellipse cx="266.85" cy="48.50" rx="1.2" ry="1.8" fill="#50544e" opacity="0.4"/>
<ellipse cx="259.60" cy="61.70" rx="1.3" ry="1.2" fill="#40443e" opacity="0.4"/>
<ellipse cx="267.19" cy="61.70" rx="1.3" ry="1.2" fill="#40443e" opacity="0.4"/>

</g>
</g>
<g>
<path d="M282.88,91.70 L276.72,98.80 M296.32,91.70 L302.48,98.80" stroke="#a4a8a1" stroke-width="1.3" stroke-linecap="round" fill="none"/>
<path d="M289.60,96.00 Q289.60,100.85 289.60,104.70" stroke="#9da19a" stroke-width="1.5" fill="none"/>
<clipPath id="c11"><path d="M290.16,44.00 L290.93,45.33 L291.65,46.65 L292.31,47.98 L292.96,49.30 L293.57,50.62 L294.17,51.95 L294.86,53.27 L295.61,54.60 L296.35,55.92 L297.05,57.25 L297.75,58.58 L298.20,59.90 L298.58,61.23 L298.97,62.55 L299.24,63.88 L299.43,65.20 L299.63,66.53 L299.83,67.85 L299.96,69.17 L300.05,70.50 L300.15,71.83 L300.24,73.15 L300.33,74.47 L300.42,75.80 L300.50,77.12 L300.58,78.45 L300.66,79.78 L300.74,81.10 L300.80,82.42 L300.80,83.75 L300.80,85.08 L300.80,86.40 L300.80,87.72 L300.70,89.05 L300.46,90.38 L300.21,91.70 L299.81,93.03 L298.81,94.35 L297.25,95.67 L293.52,97.00 L285.68,97.00 L281.95,95.67 L280.39,94.35 L279.39,93.03 L278.99,91.70 L278.74,90.38 L278.50,89.05 L278.40,87.72 L278.40,86.40 L278.40,85.08 L278.40,83.75 L278.40,82.42 L278.46,81.10 L278.54,79.78 L278.62,78.45 L278.70,77.12 L278.78,75.80 L278.87,74.47 L278.96,73.15 L279.05,71.83 L279.15,70.50 L279.24,69.17 L279.37,67.85 L279.57,66.53 L279.77,65.20 L279.96,63.88 L280.23,62.55 L280.62,61.23 L281.00,59.90 L281.45,58.58 L282.15,57.25 L282.85,55.92 L283.59,54.60 L284.34,53.27 L285.03,51.95 L285.63,50.62 L286.24,49.30 L286.89,47.98 L287.55,46.65 L288.27,45.33 L289.04,44.00Z"/></clipPath>
<path d="M290.16,44.00 L290.93,45.33 L291.65,46.65 L292.31,47.98 L292.96,49.30 L293.57,50.62 L294.17,51.95 L294.86,53.27 L295.61,54.60 L296.35,55.92 L297.05,57.25 L297.75,58.58 L298.20,59.90 L298.58,61.23 L298.97,62.55 L299.24,63.88 L299.43,65.20 L299.63,66.53 L299.83,67.85 L299.96,69.17 L300.05,70.50 L300.15,71.83 L300.24,73.15 L300.33,74.47 L300.42,75.80 L300.50,77.12 L300.58,78.45 L300.66,79.78 L300.74,81.10 L300.80,82.42 L300.80,83.75 L300.80,85.08 L300.80,86.40 L300.80,87.72 L300.70,89.05 L300.46,90.38 L300.21,91.70 L299.81,93.03 L298.81,94.35 L297.25,95.67 L293.52,97.00 L285.68,97.00 L281.95,95.67 L280.39,94.35 L279.39,93.03 L278.99,91.70 L278.74,90.38 L278.50,89.05 L278.40,87.72 L278.40,86.40 L278.40,85.08 L278.40,83.75 L278.40,82.42 L278.46,81.10 L278.54,79.78 L278.62,78.45 L278.70,77.12 L278.78,75.80 L278.87,74.47 L278.96,73.15 L279.05,71.83 L279.15,70.50 L279.24,69.17 L279.37,67.85 L279.57,66.53 L279.77,65.20 L279.96,63.88 L280.23,62.55 L280.62,61.23 L281.00,59.90 L281.45,58.58 L282.15,57.25 L282.85,55.92 L283.59,54.60 L284.34,53.27 L285.03,51.95 L285.63,50.62 L286.24,49.30 L286.89,47.98 L287.55,46.65 L288.27,45.33 L289.04,44.00Z" fill="url(#mv)"/>
<g clip-path="url(#c11)">
<rect x="277.84" y="44.00" width="23.52" height="53.00" fill="url(#mh)"/>
<rect x="277.84" y="44.00" width="23.52" height="53.00" filter="url(#fur)" opacity="0.32"/>
<ellipse cx="289.60" cy="46.65" rx="2.46" ry="3.71" fill="#3e423c" opacity="0.45"/>
<ellipse cx="286.24" cy="49.30" rx="1.2" ry="1.8" fill="#50544e" opacity="0.4"/>
<ellipse cx="292.96" cy="49.30" rx="1.2" ry="1.8" fill="#50544e" opacity="0.4"/>
<ellipse cx="285.90" cy="62.02" rx="1.3" ry="1.2" fill="#40443e" opacity="0.4"/>
<ellipse cx="293.30" cy="62.02" rx="1.3" ry="1.2" fill="#40443e" opacity="0.4"/>

</g>
</g>
<g>
<path d="M308.72,89.90 L302.78,96.80 M321.68,89.90 L327.62,96.80" stroke="#a4a8a1" stroke-width="1.3" stroke-linecap="round" fill="none"/>
<path d="M315.20,94.00 Q315.20,99.85 315.20,104.70" stroke="#9da19a" stroke-width="1.5" fill="none"/>
<clipPath id="c12"><path d="M315.74,44.00 L316.48,45.27 L317.18,46.55 L317.81,47.83 L318.44,49.10 L319.02,50.38 L319.61,51.65 L320.28,52.92 L321.00,54.20 L321.71,55.48 L322.38,56.75 L323.06,58.02 L323.49,59.30 L323.86,60.58 L324.23,61.85 L324.49,63.12 L324.68,64.40 L324.87,65.67 L325.06,66.95 L325.19,68.22 L325.28,69.50 L325.37,70.78 L325.46,72.05 L325.55,73.33 L325.63,74.60 L325.71,75.88 L325.78,77.15 L325.86,78.43 L325.94,79.70 L326.00,80.97 L326.00,82.25 L326.00,83.53 L326.00,84.80 L326.00,86.07 L325.91,87.35 L325.67,88.62 L325.43,89.90 L325.05,91.18 L324.08,92.45 L322.58,93.72 L318.98,95.00 L311.42,95.00 L307.82,93.72 L306.32,92.45 L305.35,91.18 L304.97,89.90 L304.73,88.62 L304.49,87.35 L304.40,86.07 L304.40,84.80 L304.40,83.53 L304.40,82.25 L304.40,80.97 L304.46,79.70 L304.54,78.43 L304.62,77.15 L304.69,75.88 L304.77,74.60 L304.85,73.33 L304.94,72.05 L305.03,70.78 L305.12,69.50 L305.21,68.22 L305.34,66.95 L305.53,65.67 L305.72,64.40 L305.91,63.12 L306.17,61.85 L306.54,60.58 L306.91,59.30 L307.34,58.02 L308.02,56.75 L308.69,55.48 L309.40,54.20 L310.12,52.92 L310.79,51.65 L311.38,50.38 L311.96,49.10 L312.59,47.83 L313.22,46.55 L313.92,45.27 L314.66,44.00Z"/></clipPath>
<path d="M315.74,44.00 L316.48,45.27 L317.18,46.55 L317.81,47.83 L318.44,49.10 L319.02,50.38 L319.61,51.65 L320.28,52.92 L321.00,54.20 L321.71,55.48 L322.38,56.75 L323.06,58.02 L323.49,59.30 L323.86,60.58 L324.23,61.85 L324.49,63.12 L324.68,64.40 L324.87,65.67 L325.06,66.95 L325.19,68.22 L325.28,69.50 L325.37,70.78 L325.46,72.05 L325.55,73.33 L325.63,74.60 L325.71,75.88 L325.78,77.15 L325.86,78.43 L325.94,79.70 L326.00,80.97 L326.00,82.25 L326.00,83.53 L326.00,84.80 L326.00,86.07 L325.91,87.35 L325.67,88.62 L325.43,89.90 L325.05,91.18 L324.08,92.45 L322.58,93.72 L318.98,95.00 L311.42,95.00 L307.82,93.72 L306.32,92.45 L305.35,91.18 L304.97,89.90 L304.73,88.62 L304.49,87.35 L304.40,86.07 L304.40,84.80 L304.40,83.53 L304.40,82.25 L304.40,80.97 L304.46,79.70 L304.54,78.43 L304.62,77.15 L304.69,75.88 L304.77,74.60 L304.85,73.33 L304.94,72.05 L305.03,70.78 L305.12,69.50 L305.21,68.22 L305.34,66.95 L305.53,65.67 L305.72,64.40 L305.91,63.12 L306.17,61.85 L306.54,60.58 L306.91,59.30 L307.34,58.02 L308.02,56.75 L308.69,55.48 L309.40,54.20 L310.12,52.92 L310.79,51.65 L311.38,50.38 L311.96,49.10 L312.59,47.83 L313.22,46.55 L313.92,45.27 L314.66,44.00Z" fill="url(#mv)"/>
<g clip-path="url(#c12)">
<rect x="303.86" y="44.00" width="22.68" height="51.00" fill="url(#mh)"/>
<rect x="303.86" y="44.00" width="22.68" height="51.00" filter="url(#fur)" opacity="0.32"/>
<ellipse cx="315.20" cy="46.55" rx="2.38" ry="3.57" fill="#3e423c" opacity="0.45"/>
<ellipse cx="311.96" cy="49.10" rx="1.2" ry="1.8" fill="#50544e" opacity="0.4"/>
<ellipse cx="318.44" cy="49.10" rx="1.2" ry="1.8" fill="#50544e" opacity="0.4"/>
<ellipse cx="311.64" cy="61.34" rx="1.3" ry="1.2" fill="#40443e" opacity="0.4"/>
<ellipse cx="318.76" cy="61.34" rx="1.3" ry="1.2" fill="#40443e" opacity="0.4"/>

</g>
</g>
<path d="M225,86 L253,86 L253,104.7 L225,104.7Z" fill="#3418f2"/><ellipse cx="231" cy="99.5" rx="1.6" ry="1.2" fill="#3cf000"/><ellipse cx="247" cy="99.5" rx="1.5" ry="1.2" fill="#3cf000"/><path d="M229.5,52 L235,50.5 L240,50 L245,51 L247,53 L248,58 L244.5,60.5 L240,60 L236,59.5 L232,60 L229.8,61 L228.5,58Z" fill="#3418f2"/><ellipse cx="231" cy="58.8" rx="1.3" ry="1.1" fill="#3cf000"/><ellipse cx="243" cy="57.1" rx="1.6" ry="1.2" fill="#3cf000"/><path d="M227,58 L230,57 L230.5,62 L228,66 L226.5,64Z" fill="#3418f2"/><path d="M243.5,60 L248,58 L250.8,62 L251.5,72 L251.5,79 L246,79.5 L243,76 L243.5,68Z" fill="#3418f2"/><path d="M226,74 L236,74.5 L243,74 L252,76 L253,82 L226,82Z" fill="#3418f2"/><path d="M225.5,77.5 L236,77.2 L252.5,77.5 L253,84 L225.5,84Z" fill="#3cf000"/><ellipse cx="248.3" cy="74" rx="2.4" ry="3.6" fill="#3cf000"/><ellipse cx="248.4" cy="74.2" rx="1.7" ry="2.8" fill="#f40a0a"/><path d="M225,80.2 L240,80 L252.5,80.5 L253.5,88 L251.5,93 L248,95.5 L245,97.8 L240,98.3 L234,98 L230,95 L226,92 L225,90Z" fill="#f40a0a"/>
<ellipse cx="263.6" cy="46.2" rx="2.8" ry="3.4" fill="#3418f2"/><path d="M255,59 L258.5,59.5 L259.5,66 L260,77 L256,79 L254.5,70Z" fill="#3418f2"/><path d="M258,70 L259.6,70 L260.5,80 L258.8,80Z" fill="#3cf000"/><path d="M253,78 L262,78.5 L266.5,81.5 L273,82 L276,85 L276,93 L271,95 L266,99 L262,102 L256,101 L253,98Z" fill="#3418f2"/><path d="M252.5,78 L258,78.5 L263,80.5 L268,83 L270,87 L268.5,93 L265,96.5 L258,97 L252.5,96Z" fill="#3cf000"/><path d="M252,78.4 L256,79.5 L260,81 L265.5,81.5 L266,88 L265,93 L261,95 L255,94.5 L252,94.3Z" fill="#f40a0a"/>
<ellipse cx="299" cy="85.5" rx="2.6" ry="5.5" fill="#3418f2"/><ellipse cx="282" cy="98.7" rx="1.3" ry="1.4" fill="#3418f2"/>
<path d="M313,45 L317,45.5 L321,51 L323,56 L322.5,60.5 L317,61.5 L311,61 L308,57 L310,50Z" fill="#3418f2"/><ellipse cx="317.5" cy="51.2" rx="1.6" ry="1.5" fill="#3cf000"/><ellipse cx="320.5" cy="57" rx="1.2" ry="1.2" fill="#3cf000"/><ellipse cx="314.5" cy="61" rx="2.2" ry="2.3" fill="#3418f2"/><ellipse cx="310.5" cy="66" rx="1.6" ry="1.5" fill="#3418f2"/><path d="M304.4,81 L310,80 L318,80.5 L324.5,81 L325,88 L324,94.5 L316,95 L308,94 L304.4,90Z" fill="#3418f2"/><ellipse cx="307.8" cy="84" rx="2.2" ry="1.9" fill="#3cf000"/><ellipse cx="319.5" cy="87.5" rx="4.2" ry="5.2" fill="#3cf000"/><ellipse cx="319.5" cy="87.5" rx="3.2" ry="4.2" fill="#e8f000"/><ellipse cx="319.5" cy="87.5" rx="2.5" ry="3.5" fill="#f40a0a"/>
</g>
<g clip-path="url(#blk3)">
<g>
<path d="M24.40,159.90 L19.45,166.70 M35.20,159.90 L40.15,166.70" stroke="#a4a8a1" stroke-width="1.3" stroke-linecap="round" fill="none"/>
<path d="M29.80,163.90 Q29.80,169.85 29.80,174.80" stroke="#9da19a" stroke-width="1.5" fill="none"/>
<clipPath id="c13"><path d="M30.25,114.90 L30.87,116.15 L31.45,117.40 L31.98,118.65 L32.50,119.90 L32.99,121.15 L33.48,122.40 L34.03,123.65 L34.63,124.90 L35.22,126.15 L35.78,127.40 L36.35,128.65 L36.71,129.90 L37.02,131.15 L37.33,132.40 L37.54,133.65 L37.70,134.90 L37.86,136.15 L38.02,137.40 L38.12,138.65 L38.20,139.90 L38.27,141.15 L38.35,142.40 L38.42,143.65 L38.49,144.90 L38.56,146.15 L38.62,147.40 L38.68,148.65 L38.75,149.90 L38.80,151.15 L38.80,152.40 L38.80,153.65 L38.80,154.90 L38.80,156.15 L38.72,157.40 L38.52,158.65 L38.33,159.90 L38.01,161.15 L37.20,162.40 L35.95,163.65 L32.95,164.90 L26.65,164.90 L23.65,163.65 L22.40,162.40 L21.59,161.15 L21.27,159.90 L21.08,158.65 L20.88,157.40 L20.80,156.15 L20.80,154.90 L20.80,153.65 L20.80,152.40 L20.80,151.15 L20.85,149.90 L20.92,148.65 L20.98,147.40 L21.04,146.15 L21.11,144.90 L21.18,143.65 L21.25,142.40 L21.33,141.15 L21.40,139.90 L21.48,138.65 L21.58,137.40 L21.74,136.15 L21.90,134.90 L22.06,133.65 L22.27,132.40 L22.58,131.15 L22.89,129.90 L23.25,128.65 L23.82,127.40 L24.38,126.15 L24.97,124.90 L25.57,123.65 L26.12,122.40 L26.61,121.15 L27.10,119.90 L27.62,118.65 L28.15,117.40 L28.73,116.15 L29.35,114.90Z"/></clipPath>
<path d="M30.25,114.90 L30.87,116.15 L31.45,117.40 L31.98,118.65 L32.50,119.90 L32.99,121.15 L33.48,122.40 L34.03,123.65 L34.63,124.90 L35.22,126.15 L35.78,127.40 L36.35,128.65 L36.71,129.90 L37.02,131.15 L37.33,132.40 L37.54,133.65 L37.70,134.90 L37.86,136.15 L38.02,137.40 L38.12,138.65 L38.20,139.90 L38.27,141.15 L38.35,142.40 L38.42,143.65 L38.49,144.90 L38.56,146.15 L38.62,147.40 L38.68,148.65 L38.75,149.90 L38.80,151.15 L38.80,152.40 L38.80,153.65 L38.80,154.90 L38.80,156.15 L38.72,157.40 L38.52,158.65 L38.33,159.90 L38.01,161.15 L37.20,162.40 L35.95,163.65 L32.95,164.90 L26.65,164.90 L23.65,163.65 L22.40,162.40 L21.59,161.15 L21.27,159.90 L21.08,158.65 L20.88,157.40 L20.80,156.15 L20.80,154.90 L20.80,153.65 L20.80,152.40 L20.80,151.15 L20.85,149.90 L20.92,148.65 L20.98,147.40 L21.04,146.15 L21.11,144.90 L21.18,143.65 L21.25,142.40 L21.33,141.15 L21.40,139.90 L21.48,138.65 L21.58,137.40 L21.74,136.15 L21.90,134.90 L22.06,133.65 L22.27,132.40 L22.58,131.15 L22.89,129.90 L23.25,128.65 L23.82,127.40 L24.38,126.15 L24.97,124.90 L25.57,123.65 L26.12,122.40 L26.61,121.15 L27.10,119.90 L27.62,118.65 L28.15,117.40 L28.73,116.15 L29.35,114.90Z" fill="url(#mv)"/>
<g clip-path="url(#c13)">
<rect x="20.35" y="114.90" width="18.90" height="50.00" fill="url(#mh)"/>
<rect x="20.35" y="114.90" width="18.90" height="50.00" filter="url(#fur)" opacity="0.32"/>
<ellipse cx="29.80" cy="117.40" rx="1.98" ry="3.50" fill="#3e423c" opacity="0.45"/>
<ellipse cx="27.10" cy="119.90" rx="1.2" ry="1.8" fill="#50544e" opacity="0.4"/>
<ellipse cx="32.50" cy="119.90" rx="1.2" ry="1.8" fill="#50544e" opacity="0.4"/>
<ellipse cx="26.83" cy="131.90" rx="1.3" ry="1.2" fill="#40443e" opacity="0.4"/>
<ellipse cx="32.77" cy="131.90" rx="1.3" ry="1.2" fill="#40443e" opacity="0.4"/>

</g>
</g>
<g>
<path d="M48.98,158.10 L42.82,164.70 M62.42,158.10 L68.58,164.70" stroke="#a4a8a1" stroke-width="1.3" stroke-linecap="round" fill="none"/>
<path d="M55.70,161.90 Q55.70,168.85 55.70,174.80" stroke="#9da19a" stroke-width="1.5" fill="none"/>
<clipPath id="c14"><path d="M56.26,114.90 L57.03,116.10 L57.75,117.30 L58.41,118.50 L59.06,119.70 L59.67,120.90 L60.27,122.10 L60.96,123.30 L61.71,124.50 L62.45,125.70 L63.15,126.90 L63.85,128.10 L64.30,129.30 L64.68,130.50 L65.07,131.70 L65.34,132.90 L65.53,134.10 L65.73,135.30 L65.93,136.50 L66.06,137.70 L66.15,138.90 L66.25,140.10 L66.34,141.30 L66.43,142.50 L66.52,143.70 L66.60,144.90 L66.68,146.10 L66.76,147.30 L66.84,148.50 L66.90,149.70 L66.90,150.90 L66.90,152.10 L66.90,153.30 L66.90,154.50 L66.80,155.70 L66.56,156.90 L66.31,158.10 L65.91,159.30 L64.91,160.50 L63.35,161.70 L59.62,162.90 L51.78,162.90 L48.05,161.70 L46.49,160.50 L45.49,159.30 L45.09,158.10 L44.84,156.90 L44.60,155.70 L44.50,154.50 L44.50,153.30 L44.50,152.10 L44.50,150.90 L44.50,149.70 L44.56,148.50 L44.64,147.30 L44.72,146.10 L44.80,144.90 L44.88,143.70 L44.97,142.50 L45.06,141.30 L45.15,140.10 L45.25,138.90 L45.34,137.70 L45.47,136.50 L45.67,135.30 L45.87,134.10 L46.06,132.90 L46.33,131.70 L46.72,130.50 L47.10,129.30 L47.55,128.10 L48.25,126.90 L48.95,125.70 L49.69,124.50 L50.44,123.30 L51.13,122.10 L51.73,120.90 L52.34,119.70 L52.99,118.50 L53.65,117.30 L54.37,116.10 L55.14,114.90Z"/></clipPath>
<path d="M56.26,114.90 L57.03,116.10 L57.75,117.30 L58.41,118.50 L59.06,119.70 L59.67,120.90 L60.27,122.10 L60.96,123.30 L61.71,124.50 L62.45,125.70 L63.15,126.90 L63.85,128.10 L64.30,129.30 L64.68,130.50 L65.07,131.70 L65.34,132.90 L65.53,134.10 L65.73,135.30 L65.93,136.50 L66.06,137.70 L66.15,138.90 L66.25,140.10 L66.34,141.30 L66.43,142.50 L66.52,143.70 L66.60,144.90 L66.68,146.10 L66.76,147.30 L66.84,148.50 L66.90,149.70 L66.90,150.90 L66.90,152.10 L66.90,153.30 L66.90,154.50 L66.80,155.70 L66.56,156.90 L66.31,158.10 L65.91,159.30 L64.91,160.50 L63.35,161.70 L59.62,162.90 L51.78,162.90 L48.05,161.70 L46.49,160.50 L45.49,159.30 L45.09,158.10 L44.84,156.90 L44.60,155.70 L44.50,154.50 L44.50,153.30 L44.50,152.10 L44.50,150.90 L44.50,149.70 L44.56,148.50 L44.64,147.30 L44.72,146.10 L44.80,144.90 L44.88,143.70 L44.97,142.50 L45.06,141.30 L45.15,140.10 L45.25,138.90 L45.34,137.70 L45.47,136.50 L45.67,135.30 L45.87,134.10 L46.06,132.90 L46.33,131.70 L46.72,130.50 L47.10,129.30 L47.55,128.10 L48.25,126.90 L48.95,125.70 L49.69,124.50 L50.44,123.30 L51.13,122.10 L51.73,120.90 L52.34,119.70 L52.99,118.50 L53.65,117.30 L54.37,116.10 L55.14,114.90Z" fill="url(#mv)"/>
<g clip-path="url(#c14)">
<rect x="43.94" y="114.90" width="23.52" height="48.00" fill="url(#mh)"/>
<rect x="43.94" y="114.90" width="23.52" height="48.00" filter="url(#fur)" opacity="0.32"/>
<ellipse cx="55.70" cy="117.30" rx="2.46" ry="3.36" fill="#3e423c" opacity="0.45"/>
<ellipse cx="52.34" cy="119.70" rx="1.2" ry="1.8" fill="#50544e" opacity="0.4"/>
<ellipse cx="59.06" cy="119.70" rx="1.2" ry="1.8" fill="#50544e" opacity="0.4"/>
<ellipse cx="52.00" cy="131.22" rx="1.3" ry="1.2" fill="#40443e" opacity="0.4"/>
<ellipse cx="59.40" cy="131.22" rx="1.3" ry="1.2" fill="#40443e" opacity="0.4"/>

</g>
</g>
<g>
<path d="M74.10,161.70 L67.78,168.80 M87.90,161.70 L94.22,168.80" stroke="#a4a8a1" stroke-width="1.3" stroke-linecap="round" fill="none"/>
<path d="M81.00,166.00 Q81.00,170.90 81.00,174.80" stroke="#9da19a" stroke-width="1.5" fill="none"/>
<clipPath id="c15"><path d="M81.58,114.00 L82.37,115.33 L83.11,116.65 L83.78,117.97 L84.45,119.30 L85.07,120.62 L85.70,121.95 L86.41,123.28 L87.17,124.60 L87.93,125.92 L88.65,127.25 L89.37,128.57 L89.83,129.90 L90.22,131.22 L90.62,132.55 L90.90,133.88 L91.10,135.20 L91.30,136.53 L91.50,137.85 L91.64,139.18 L91.73,140.50 L91.83,141.82 L91.92,143.15 L92.02,144.47 L92.11,145.80 L92.19,147.12 L92.27,148.45 L92.35,149.78 L92.43,151.10 L92.50,152.43 L92.50,153.75 L92.50,155.07 L92.50,156.40 L92.50,157.72 L92.40,159.05 L92.15,160.38 L91.90,161.70 L91.49,163.03 L90.45,164.35 L88.86,165.68 L85.03,167.00 L76.97,167.00 L73.14,165.68 L71.55,164.35 L70.51,163.03 L70.10,161.70 L69.85,160.38 L69.60,159.05 L69.50,157.72 L69.50,156.40 L69.50,155.07 L69.50,153.75 L69.50,152.43 L69.57,151.10 L69.65,149.78 L69.73,148.45 L69.81,147.12 L69.89,145.80 L69.98,144.47 L70.08,143.15 L70.17,141.82 L70.27,140.50 L70.36,139.18 L70.50,137.85 L70.70,136.53 L70.90,135.20 L71.10,133.88 L71.38,132.55 L71.78,131.22 L72.17,129.90 L72.63,128.57 L73.35,127.25 L74.07,125.92 L74.83,124.60 L75.59,123.28 L76.30,121.95 L76.93,120.62 L77.55,119.30 L78.22,117.97 L78.89,116.65 L79.63,115.33 L80.42,114.00Z"/></clipPath>
<path d="M81.58,114.00 L82.37,115.33 L83.11,116.65 L83.78,117.97 L84.45,119.30 L85.07,120.62 L85.70,121.95 L86.41,123.28 L87.17,124.60 L87.93,125.92 L88.65,127.25 L89.37,128.57 L89.83,129.90 L90.22,131.22 L90.62,132.55 L90.90,133.88 L91.10,135.20 L91.30,136.53 L91.50,137.85 L91.64,139.18 L91.73,140.50 L91.83,141.82 L91.92,143.15 L92.02,144.47 L92.11,145.80 L92.19,147.12 L92.27,148.45 L92.35,149.78 L92.43,151.10 L92.50,152.43 L92.50,153.75 L92.50,155.07 L92.50,156.40 L92.50,157.72 L92.40,159.05 L92.15,160.38 L91.90,161.70 L91.49,163.03 L90.45,164.35 L88.86,165.68 L85.03,167.00 L76.97,167.00 L73.14,165.68 L71.55,164.35 L70.51,163.03 L70.10,161.70 L69.85,160.38 L69.60,159.05 L69.50,157.72 L69.50,156.40 L69.50,155.07 L69.50,153.75 L69.50,152.43 L69.57,151.10 L69.65,149.78 L69.73,148.45 L69.81,147.12 L69.89,145.80 L69.98,144.47 L70.08,143.15 L70.17,141.82 L70.27,140.50 L70.36,139.18 L70.50,137.85 L70.70,136.53 L70.90,135.20 L71.10,133.88 L71.38,132.55 L71.78,131.22 L72.17,129.90 L72.63,128.57 L73.35,127.25 L74.07,125.92 L74.83,124.60 L75.59,123.28 L76.30,121.95 L76.93,120.62 L77.55,119.30 L78.22,117.97 L78.89,116.65 L79.63,115.33 L80.42,114.00Z" fill="url(#mv)"/>
<g clip-path="url(#c15)">
<rect x="68.92" y="114.00" width="24.15" height="53.00" fill="url(#mh)"/>
<rect x="68.92" y="114.00" width="24.15" height="53.00" filter="url(#fur)" opacity="0.32"/>
<ellipse cx="81.00" cy="116.65" rx="2.53" ry="3.71" fill="#3e423c" opacity="0.45"/>
<ellipse cx="77.55" cy="119.30" rx="1.2" ry="1.8" fill="#50544e" opacity="0.4"/>
<ellipse cx="84.45" cy="119.30" rx="1.2" ry="1.8" fill="#50544e" opacity="0.4"/>
<ellipse cx="77.20" cy="132.02" rx="1.3" ry="1.2" fill="#40443e" opacity="0.4"/>
<ellipse cx="84.80" cy="132.02" rx="1.3" ry="1.2" fill="#40443e" opacity="0.4"/>

</g>
</g>
<g>
<path d="M98.34,163.05 L91.96,170.30 M112.26,163.05 L118.64,170.30" stroke="#a4a8a1" stroke-width="1.3" stroke-linecap="round" fill="none"/>
<path d="M105.30,167.50 Q105.30,171.65 105.30,174.80" stroke="#9da19a" stroke-width="1.5" fill="none"/>
<clipPath id="c16"><path d="M105.88,114.00 L106.68,115.36 L107.43,116.72 L108.10,118.09 L108.78,119.45 L109.41,120.81 L110.04,122.17 L110.75,123.54 L111.53,124.90 L112.29,126.26 L113.01,127.62 L113.74,128.99 L114.20,130.35 L114.60,131.71 L115.00,133.07 L115.28,134.44 L115.48,135.80 L115.69,137.16 L115.89,138.53 L116.03,139.89 L116.13,141.25 L116.22,142.61 L116.32,143.97 L116.42,145.34 L116.50,146.70 L116.59,148.06 L116.67,149.43 L116.75,150.79 L116.83,152.15 L116.90,153.51 L116.90,154.88 L116.90,156.24 L116.90,157.60 L116.90,158.96 L116.80,160.32 L116.54,161.69 L116.29,163.05 L115.88,164.41 L114.84,165.78 L113.23,167.14 L109.36,168.50 L101.24,168.50 L97.37,167.14 L95.76,165.78 L94.72,164.41 L94.31,163.05 L94.06,161.69 L93.80,160.32 L93.70,158.96 L93.70,157.60 L93.70,156.24 L93.70,154.88 L93.70,153.51 L93.77,152.15 L93.85,150.79 L93.93,149.43 L94.01,148.06 L94.10,146.70 L94.18,145.34 L94.28,143.97 L94.38,142.61 L94.47,141.25 L94.57,139.89 L94.71,138.53 L94.91,137.16 L95.12,135.80 L95.32,134.44 L95.60,133.07 L96.00,131.71 L96.40,130.35 L96.86,128.99 L97.59,127.62 L98.31,126.26 L99.07,124.90 L99.85,123.54 L100.56,122.17 L101.19,120.81 L101.82,119.45 L102.50,118.09 L103.17,116.72 L103.92,115.36 L104.72,114.00Z"/></clipPath>
<path d="M105.88,114.00 L106.68,115.36 L107.43,116.72 L108.10,118.09 L108.78,119.45 L109.41,120.81 L110.04,122.17 L110.75,123.54 L111.53,124.90 L112.29,126.26 L113.01,127.62 L113.74,128.99 L114.20,130.35 L114.60,131.71 L115.00,133.07 L115.28,134.44 L115.48,135.80 L115.69,137.16 L115.89,138.53 L116.03,139.89 L116.13,141.25 L116.22,142.61 L116.32,143.97 L116.42,145.34 L116.50,146.70 L116.59,148.06 L116.67,149.43 L116.75,150.79 L116.83,152.15 L116.90,153.51 L116.90,154.88 L116.90,156.24 L116.90,157.60 L116.90,158.96 L116.80,160.32 L116.54,161.69 L116.29,163.05 L115.88,164.41 L114.84,165.78 L113.23,167.14 L109.36,168.50 L101.24,168.50 L97.37,167.14 L95.76,165.78 L94.72,164.41 L94.31,163.05 L94.06,161.69 L93.80,160.32 L93.70,158.96 L93.70,157.60 L93.70,156.24 L93.70,154.88 L93.70,153.51 L93.77,152.15 L93.85,150.79 L93.93,149.43 L94.01,148.06 L94.10,146.70 L94.18,145.34 L94.28,143.97 L94.38,142.61 L94.47,141.25 L94.57,139.89 L94.71,138.53 L94.91,137.16 L95.12,135.80 L95.32,134.44 L95.60,133.07 L96.00,131.71 L96.40,130.35 L96.86,128.99 L97.59,127.62 L98.31,126.26 L99.07,124.90 L99.85,123.54 L100.56,122.17 L101.19,120.81 L101.82,119.45 L102.50,118.09 L103.17,116.72 L103.92,115.36 L104.72,114.00Z" fill="url(#mv)"/>
<g clip-path="url(#c16)">
<rect x="93.12" y="114.00" width="24.36" height="54.50" fill="url(#mh)"/>
<rect x="93.12" y="114.00" width="24.36" height="54.50" filter="url(#fur)" opacity="0.32"/>
<ellipse cx="105.30" cy="116.72" rx="2.55" ry="3.82" fill="#3e423c" opacity="0.45"/>
<ellipse cx="101.82" cy="119.45" rx="1.2" ry="1.8" fill="#50544e" opacity="0.4"/>
<ellipse cx="108.78" cy="119.45" rx="1.2" ry="1.8" fill="#50544e" opacity="0.4"/>
<ellipse cx="101.47" cy="132.53" rx="1.3" ry="1.2" fill="#40443e" opacity="0.4"/>
<ellipse cx="109.13" cy="132.53" rx="1.3" ry="1.2" fill="#40443e" opacity="0.4"/>

</g>
</g>
<path d="M21.4,129.0 L23.1,128.1 L24.8,127.3 L26.5,126.9 L28.2,126.2 L29.9,126.4 L31.6,124.9 L33.3,126.1 L35.0,127.6 L36.7,127.9 L38.4,129.5 L38.4,142.9 L36.7,143.8 L35.0,143.7 L33.3,144.4 L31.6,144.5 L29.9,143.5 L28.2,143.9 L26.5,143.9 L24.8,144.9 L23.1,144.4 L21.4,143.0Z" fill="#3418f2"/><rect x="28.6" y="165" width="3" height="9.5" fill="#3418f2"/>
<path d="M44.0,129.5 L45.6,128.7 L47.2,127.4 L48.8,126.4 L50.5,125.5 L52.1,126.4 L53.7,125.8 L55.3,126.3 L56.9,125.6 L58.5,126.5 L60.1,126.0 L61.8,127.4 L63.4,127.8 L65.0,128.0 L66.6,129.1 L66.6,146.5 L65.0,145.9 L63.4,146.7 L61.8,147.3 L60.1,146.4 L58.5,147.5 L56.9,147.3 L55.3,147.6 L53.7,146.7 L52.1,146.2 L50.5,147.4 L48.8,147.3 L47.2,146.5 L45.6,145.7 L44.0,145.7Z" fill="#3418f2"/><rect x="54.8" y="165" width="2.2" height="4" fill="#3418f2"/>
<path d="M70.8,131.9 L72.5,130.6 L74.3,130.7 L76.0,129.0 L77.7,129.4 L79.5,128.8 L81.2,128.2 L82.9,129.1 L84.7,128.5 L86.4,129.7 L88.1,129.6 L89.9,130.5 L91.6,132.1 L91.6,143.6 L89.9,142.6 L88.1,142.9 L86.4,143.8 L84.7,144.5 L82.9,143.9 L81.2,143.6 L79.5,144.6 L77.7,142.9 L76.0,144.2 L74.3,143.1 L72.5,142.6 L70.8,142.3Z" fill="#3418f2"/><rect x="80.6" y="169" width="1.6" height="4" fill="#3418f2"/>
<path d="M94.0,131.7 L95.6,132.2 L97.2,130.0 L98.8,130.4 L100.5,128.8 L102.1,128.8 L103.7,130.0 L105.3,128.5 L106.9,129.3 L108.5,129.2 L110.1,129.5 L111.8,130.0 L113.4,130.1 L115.0,131.9 L116.6,131.5 L116.6,143.7 L115.0,143.5 L113.4,144.2 L111.8,144.6 L110.1,145.6 L108.5,144.7 L106.9,144.3 L105.3,144.6 L103.7,145.9 L102.1,144.1 L100.5,145.1 L98.8,144.5 L97.2,144.9 L95.6,144.1 L94.0,144.5Z" fill="#3418f2"/>
</g>
<g clip-path="url(#blk4)">
<g>
<path d="M127.10,162.70 L121.88,169.80 M138.50,162.70 L143.73,169.80" stroke="#a4a8a1" stroke-width="1.3" stroke-linecap="round" fill="none"/>
<path d="M132.80,167.00 Q132.80,171.70 132.80,175.40" stroke="#9da19a" stroke-width="1.5" fill="none"/>
<clipPath id="c17"><path d="M133.28,115.00 L133.93,116.33 L134.54,117.65 L135.10,118.97 L135.65,120.30 L136.16,121.62 L136.68,122.95 L137.27,124.28 L137.90,125.60 L138.52,126.92 L139.12,128.25 L139.71,129.57 L140.09,130.90 L140.42,132.22 L140.74,133.55 L140.97,134.88 L141.14,136.20 L141.31,137.53 L141.47,138.85 L141.59,140.18 L141.67,141.50 L141.75,142.82 L141.83,144.15 L141.90,145.47 L141.97,146.80 L142.04,148.12 L142.11,149.45 L142.18,150.78 L142.25,152.10 L142.30,153.43 L142.30,154.75 L142.30,156.07 L142.30,157.40 L142.30,158.72 L142.22,160.05 L142.01,161.38 L141.80,162.70 L141.46,164.03 L140.61,165.35 L139.29,166.68 L136.12,168.00 L129.48,168.00 L126.31,166.68 L124.99,165.35 L124.14,164.03 L123.80,162.70 L123.59,161.38 L123.38,160.05 L123.30,158.72 L123.30,157.40 L123.30,156.07 L123.30,154.75 L123.30,153.43 L123.35,152.10 L123.42,150.78 L123.49,149.45 L123.56,148.12 L123.63,146.80 L123.70,145.47 L123.78,144.15 L123.85,142.82 L123.93,141.50 L124.01,140.18 L124.13,138.85 L124.29,137.53 L124.46,136.20 L124.63,134.88 L124.86,133.55 L125.18,132.22 L125.51,130.90 L125.89,129.57 L126.48,128.25 L127.08,126.92 L127.70,125.60 L128.34,124.28 L128.92,122.95 L129.44,121.62 L129.95,120.30 L130.50,118.97 L131.06,117.65 L131.67,116.33 L132.33,115.00Z"/></clipPath>
<path d="M133.28,115.00 L133.93,116.33 L134.54,117.65 L135.10,118.97 L135.65,120.30 L136.16,121.62 L136.68,122.95 L137.27,124.28 L137.90,125.60 L138.52,126.92 L139.12,128.25 L139.71,129.57 L140.09,130.90 L140.42,132.22 L140.74,133.55 L140.97,134.88 L141.14,136.20 L141.31,137.53 L141.47,138.85 L141.59,140.18 L141.67,141.50 L141.75,142.82 L141.83,144.15 L141.90,145.47 L141.97,146.80 L142.04,148.12 L142.11,149.45 L142.18,150.78 L142.25,152.10 L142.30,153.43 L142.30,154.75 L142.30,156.07 L142.30,157.40 L142.30,158.72 L142.22,160.05 L142.01,161.38 L141.80,162.70 L141.46,164.03 L140.61,165.35 L139.29,166.68 L136.12,168.00 L129.48,168.00 L126.31,166.68 L124.99,165.35 L124.14,164.03 L123.80,162.70 L123.59,161.38 L123.38,160.05 L123.30,158.72 L123.30,157.40 L123.30,156.07 L123.30,154.75 L123.30,153.43 L123.35,152.10 L123.42,150.78 L123.49,149.45 L123.56,148.12 L123.63,146.80 L123.70,145.47 L123.78,144.15 L123.85,142.82 L123.93,141.50 L124.01,140.18 L124.13,138.85 L124.29,137.53 L124.46,136.20 L124.63,134.88 L124.86,133.55 L125.18,132.22 L125.51,130.90 L125.89,129.57 L126.48,128.25 L127.08,126.92 L127.70,125.60 L128.34,124.28 L128.92,122.95 L129.44,121.62 L129.95,120.30 L130.50,118.97 L131.06,117.65 L131.67,116.33 L132.33,115.00Z" fill="url(#mv)"/>
<g clip-path="url(#c17)">
<rect x="122.83" y="115.00" width="19.95" height="53.00" fill="url(#mh)"/>
<rect x="122.83" y="115.00" width="19.95" height="53.00" filter="url(#fur)" opacity="0.32"/>
<ellipse cx="132.80" cy="117.65" rx="2.09" ry="3.71" fill="#3e423c" opacity="0.45"/>
<ellipse cx="129.95" cy="120.30" rx="1.2" ry="1.8" fill="#50544e" opacity="0.4"/>
<ellipse cx="135.65" cy="120.30" rx="1.2" ry="1.8" fill="#50544e" opacity="0.4"/>
<ellipse cx="129.67" cy="133.02" rx="1.3" ry="1.2" fill="#40443e" opacity="0.4"/>
<ellipse cx="135.94" cy="133.02" rx="1.3" ry="1.2" fill="#40443e" opacity="0.4"/>

</g>
</g>
<g>
<path d="M151.00,162.70 L145.50,169.80 M163.00,162.70 L168.50,169.80" stroke="#a4a8a1" stroke-width="1.3" stroke-linecap="round" fill="none"/>
<path d="M157.00,167.00 Q157.00,171.70 157.00,175.40" stroke="#9da19a" stroke-width="1.5" fill="none"/>
<clipPath id="c18"><path d="M157.50,115.00 L158.19,116.33 L158.83,117.65 L159.42,118.97 L160.00,120.30 L160.54,121.62 L161.08,122.95 L161.70,124.28 L162.37,125.60 L163.03,126.92 L163.65,128.25 L164.28,129.57 L164.68,130.90 L165.02,132.22 L165.36,133.55 L165.60,134.88 L165.78,136.20 L165.96,137.53 L166.13,138.85 L166.25,140.18 L166.33,141.50 L166.42,142.82 L166.50,144.15 L166.58,145.47 L166.66,146.80 L166.73,148.12 L166.80,149.45 L166.87,150.78 L166.94,152.10 L167.00,153.43 L167.00,154.75 L167.00,156.07 L167.00,157.40 L167.00,158.72 L166.91,160.05 L166.69,161.38 L166.47,162.70 L166.12,164.03 L165.22,165.35 L163.83,166.68 L160.50,168.00 L153.50,168.00 L150.17,166.68 L148.78,165.35 L147.88,164.03 L147.53,162.70 L147.31,161.38 L147.09,160.05 L147.00,158.72 L147.00,157.40 L147.00,156.07 L147.00,154.75 L147.00,153.43 L147.06,152.10 L147.13,150.78 L147.20,149.45 L147.27,148.12 L147.34,146.80 L147.42,145.47 L147.50,144.15 L147.58,142.82 L147.67,141.50 L147.75,140.18 L147.87,138.85 L148.04,137.53 L148.22,136.20 L148.40,134.88 L148.64,133.55 L148.98,132.22 L149.32,130.90 L149.72,129.57 L150.35,128.25 L150.97,126.92 L151.63,125.60 L152.30,124.28 L152.92,122.95 L153.46,121.62 L154.00,120.30 L154.58,118.97 L155.17,117.65 L155.81,116.33 L156.50,115.00Z"/></clipPath>
<path d="M157.50,115.00 L158.19,116.33 L158.83,117.65 L159.42,118.97 L160.00,120.30 L160.54,121.62 L161.08,122.95 L161.70,124.28 L162.37,125.60 L163.03,126.92 L163.65,128.25 L164.28,129.57 L164.68,130.90 L165.02,132.22 L165.36,133.55 L165.60,134.88 L165.78,136.20 L165.96,137.53 L166.13,138.85 L166.25,140.18 L166.33,141.50 L166.42,142.82 L166.50,144.15 L166.58,145.47 L166.66,146.80 L166.73,148.12 L166.80,149.45 L166.87,150.78 L166.94,152.10 L167.00,153.43 L167.00,154.75 L167.00,156.07 L167.00,157.40 L167.00,158.72 L166.91,160.05 L166.69,161.38 L166.47,162.70 L166.12,164.03 L165.22,165.35 L163.83,166.68 L160.50,168.00 L153.50,168.00 L150.17,166.68 L148.78,165.35 L147.88,164.03 L147.53,162.70 L147.31,161.38 L147.09,160.05 L147.00,158.72 L147.00,157.40 L147.00,156.07 L147.00,154.75 L147.00,153.43 L147.06,152.10 L147.13,150.78 L147.20,149.45 L147.27,148.12 L147.34,146.80 L147.42,145.47 L147.50,144.15 L147.58,142.82 L147.67,141.50 L147.75,140.18 L147.87,138.85 L148.04,137.53 L148.22,136.20 L148.40,134.88 L148.64,133.55 L148.98,132.22 L149.32,130.90 L149.72,129.57 L150.35,128.25 L150.97,126.92 L151.63,125.60 L152.30,124.28 L152.92,122.95 L153.46,121.62 L154.00,120.30 L154.58,118.97 L155.17,117.65 L155.81,116.33 L156.50,115.00Z" fill="url(#mv)"/>
<g clip-path="url(#c18)">
<rect x="146.50" y="115.00" width="21.00" height="53.00" fill="url(#mh)"/>
<rect x="146.50" y="115.00" width="21.00" height="53.00" filter="url(#fur)" opacity="0.32"/>
<ellipse cx="157.00" cy="117.65" rx="2.20" ry="3.71" fill="#3e423c" opacity="0.45"/>
<ellipse cx="154.00" cy="120.30" rx="1.2" ry="1.8" fill="#50544e" opacity="0.4"/>
<ellipse cx="160.00" cy="120.30" rx="1.2" ry="1.8" fill="#50544e" opacity="0.4"/>
<ellipse cx="153.70" cy="133.02" rx="1.3" ry="1.2" fill="#40443e" opacity="0.4"/>
<ellipse cx="160.30" cy="133.02" rx="1.3" ry="1.2" fill="#40443e" opacity="0.4"/>

</g>
</g>
<g>
<path d="M176.80,162.60 L171.30,169.80 M188.80,162.60 L194.30,169.80" stroke="#a4a8a1" stroke-width="1.3" stroke-linecap="round" fill="none"/>
<path d="M182.80,167.00 Q182.80,171.70 182.80,175.40" stroke="#9da19a" stroke-width="1.5" fill="none"/>
<clipPath id="c19"><path d="M183.30,114.00 L183.99,115.35 L184.63,116.70 L185.22,118.05 L185.80,119.40 L186.34,120.75 L186.88,122.10 L187.50,123.45 L188.17,124.80 L188.83,126.15 L189.45,127.50 L190.08,128.85 L190.48,130.20 L190.82,131.55 L191.16,132.90 L191.41,134.25 L191.58,135.60 L191.76,136.95 L191.93,138.30 L192.05,139.65 L192.13,141.00 L192.22,142.35 L192.30,143.70 L192.38,145.05 L192.46,146.40 L192.53,147.75 L192.60,149.10 L192.67,150.45 L192.74,151.80 L192.80,153.15 L192.80,154.50 L192.80,155.85 L192.80,157.20 L192.80,158.55 L192.71,159.90 L192.49,161.25 L192.28,162.60 L191.92,163.95 L191.02,165.30 L189.63,166.65 L186.30,168.00 L179.30,168.00 L175.97,166.65 L174.58,165.30 L173.68,163.95 L173.33,162.60 L173.11,161.25 L172.89,159.90 L172.80,158.55 L172.80,157.20 L172.80,155.85 L172.80,154.50 L172.80,153.15 L172.86,151.80 L172.93,150.45 L173.00,149.10 L173.07,147.75 L173.14,146.40 L173.22,145.05 L173.30,143.70 L173.38,142.35 L173.47,141.00 L173.55,139.65 L173.67,138.30 L173.84,136.95 L174.02,135.60 L174.20,134.25 L174.44,132.90 L174.78,131.55 L175.12,130.20 L175.53,128.85 L176.15,127.50 L176.78,126.15 L177.43,124.80 L178.10,123.45 L178.72,122.10 L179.26,120.75 L179.80,119.40 L180.38,118.05 L180.97,116.70 L181.61,115.35 L182.30,114.00Z"/></clipPath>
<path d="M183.30,114.00 L183.99,115.35 L184.63,116.70 L185.22,118.05 L185.80,119.40 L186.34,120.75 L186.88,122.10 L187.50,123.45 L188.17,124.80 L188.83,126.15 L189.45,127.50 L190.08,128.85 L190.48,130.20 L190.82,131.55 L191.16,132.90 L191.41,134.25 L191.58,135.60 L191.76,136.95 L191.93,138.30 L192.05,139.65 L192.13,141.00 L192.22,142.35 L192.30,143.70 L192.38,145.05 L192.46,146.40 L192.53,147.75 L192.60,149.10 L192.67,150.45 L192.74,151.80 L192.80,153.15 L192.80,154.50 L192.80,155.85 L192.80,157.20 L192.80,158.55 L192.71,159.90 L192.49,161.25 L192.28,162.60 L191.92,163.95 L191.02,165.30 L189.63,166.65 L186.30,168.00 L179.30,168.00 L175.97,166.65 L174.58,165.30 L173.68,163.95 L173.33,162.60 L173.11,161.25 L172.89,159.90 L172.80,158.55 L172.80,157.20 L172.80,155.85 L172.80,154.50 L172.80,153.15 L172.86,151.80 L172.93,150.45 L173.00,149.10 L173.07,147.75 L173.14,146.40 L173.22,145.05 L173.30,143.70 L173.38,142.35 L173.47,141.00 L173.55,139.65 L173.67,138.30 L173.84,136.95 L174.02,135.60 L174.20,134.25 L174.44,132.90 L174.78,131.55 L175.12,130.20 L175.53,128.85 L176.15,127.50 L176.78,126.15 L177.43,124.80 L178.10,123.45 L178.72,122.10 L179.26,120.75 L179.80,119.40 L180.38,118.05 L180.97,116.70 L181.61,115.35 L182.30,114.00Z" fill="url(#mv)"/>
<g clip-path="url(#c19)">
<rect x="172.30" y="114.00" width="21.00" height="54.00" fill="url(#mh)"/>
<rect x="172.30" y="114.00" width="21.00" height="54.00" filter="url(#fur)" opacity="0.32"/>
<ellipse cx="182.80" cy="116.70" rx="2.20" ry="3.78" fill="#3e423c" opacity="0.45"/>
<ellipse cx="179.80" cy="119.40" rx="1.2" ry="1.8" fill="#50544e" opacity="0.4"/>
<ellipse cx="185.80" cy="119.40" rx="1.2" ry="1.8" fill="#50544e" opacity="0.4"/>
<ellipse cx="179.50" cy="132.36" rx="1.3" ry="1.2" fill="#40443e" opacity="0.4"/>
<ellipse cx="186.10" cy="132.36" rx="1.3" ry="1.2" fill="#40443e" opacity="0.4"/>

</g>
</g>
<g>
<path d="M202.52,162.60 L196.85,169.80 M214.88,162.60 L220.54,169.80" stroke="#a4a8a1" stroke-width="1.3" stroke-linecap="round" fill="none"/>
<path d="M208.70,167.00 Q208.70,171.70 208.70,175.40" stroke="#9da19a" stroke-width="1.5" fill="none"/>
<clipPath id="c20"><path d="M209.21,114.00 L209.92,115.35 L210.59,116.70 L211.19,118.05 L211.79,119.40 L212.35,120.75 L212.91,122.10 L213.54,123.45 L214.23,124.80 L214.91,126.15 L215.55,127.50 L216.19,128.85 L216.61,130.20 L216.96,131.55 L217.31,132.90 L217.56,134.25 L217.74,135.60 L217.92,136.95 L218.10,138.30 L218.23,139.65 L218.31,141.00 L218.40,142.35 L218.48,143.70 L218.57,145.05 L218.65,146.40 L218.72,147.75 L218.79,149.10 L218.87,150.45 L218.94,151.80 L219.00,153.15 L219.00,154.50 L219.00,155.85 L219.00,157.20 L219.00,158.55 L218.91,159.90 L218.68,161.25 L218.46,162.60 L218.09,163.95 L217.17,165.30 L215.74,166.65 L212.30,168.00 L205.09,168.00 L201.66,166.65 L200.23,165.30 L199.31,163.95 L198.94,162.60 L198.72,161.25 L198.49,159.90 L198.40,158.55 L198.40,157.20 L198.40,155.85 L198.40,154.50 L198.40,153.15 L198.46,151.80 L198.53,150.45 L198.61,149.10 L198.68,147.75 L198.75,146.40 L198.83,145.05 L198.91,143.70 L199.00,142.35 L199.09,141.00 L199.17,139.65 L199.30,138.30 L199.48,136.95 L199.66,135.60 L199.84,134.25 L200.09,132.90 L200.44,131.55 L200.79,130.20 L201.21,128.85 L201.85,127.50 L202.49,126.15 L203.17,124.80 L203.86,123.45 L204.49,122.10 L205.05,120.75 L205.61,119.40 L206.21,118.05 L206.81,116.70 L207.48,115.35 L208.19,114.00Z"/></clipPath>
<path d="M209.21,114.00 L209.92,115.35 L210.59,116.70 L211.19,118.05 L211.79,119.40 L212.35,120.75 L212.91,122.10 L213.54,123.45 L214.23,124.80 L214.91,126.15 L215.55,127.50 L216.19,128.85 L216.61,130.20 L216.96,131.55 L217.31,132.90 L217.56,134.25 L217.74,135.60 L217.92,136.95 L218.10,138.30 L218.23,139.65 L218.31,141.00 L218.40,142.35 L218.48,143.70 L218.57,145.05 L218.65,146.40 L218.72,147.75 L218.79,149.10 L218.87,150.45 L218.94,151.80 L219.00,153.15 L219.00,154.50 L219.00,155.85 L219.00,157.20 L219.00,158.55 L218.91,159.90 L218.68,161.25 L218.46,162.60 L218.09,163.95 L217.17,165.30 L215.74,166.65 L212.30,168.00 L205.09,168.00 L201.66,166.65 L200.23,165.30 L199.31,163.95 L198.94,162.60 L198.72,161.25 L198.49,159.90 L198.40,158.55 L198.40,157.20 L198.40,155.85 L198.40,154.50 L198.40,153.15 L198.46,151.80 L198.53,150.45 L198.61,149.10 L198.68,147.75 L198.75,146.40 L198.83,145.05 L198.91,143.70 L199.00,142.35 L199.09,141.00 L199.17,139.65 L199.30,138.30 L199.48,136.95 L199.66,135.60 L199.84,134.25 L200.09,132.90 L200.44,131.55 L200.79,130.20 L201.21,128.85 L201.85,127.50 L202.49,126.15 L203.17,124.80 L203.86,123.45 L204.49,122.10 L205.05,120.75 L205.61,119.40 L206.21,118.05 L206.81,116.70 L207.48,115.35 L208.19,114.00Z" fill="url(#mv)"/>
<g clip-path="url(#c20)">
<rect x="197.88" y="114.00" width="21.63" height="54.00" fill="url(#mh)"/>
<rect x="197.88" y="114.00" width="21.63" height="54.00" filter="url(#fur)" opacity="0.32"/>
<ellipse cx="208.70" cy="116.70" rx="2.27" ry="3.78" fill="#3e423c" opacity="0.45"/>
<ellipse cx="205.61" cy="119.40" rx="1.2" ry="1.8" fill="#50544e" opacity="0.4"/>
<ellipse cx="211.79" cy="119.40" rx="1.2" ry="1.8" fill="#50544e" opacity="0.4"/>
<ellipse cx="205.30" cy="132.36" rx="1.3" ry="1.2" fill="#40443e" opacity="0.4"/>
<ellipse cx="212.10" cy="132.36" rx="1.3" ry="1.2" fill="#40443e" opacity="0.4"/>

</g>
</g>




</g>
<g clip-path="url(#blk5)">
<g>
<path d="M233.10,161.70 L226.50,169.00 M247.50,161.70 L254.10,169.00" stroke="#a4a8a1" stroke-width="1.3" stroke-linecap="round" fill="none"/>
<path d="M240.30,166.20 Q240.30,170.85 240.30,174.50" stroke="#9da19a" stroke-width="1.5" fill="none"/>
<clipPath id="c21"><path d="M240.90,112.20 L241.73,113.58 L242.50,114.95 L243.20,116.33 L243.90,117.70 L244.55,119.08 L245.20,120.45 L245.94,121.83 L246.74,123.20 L247.53,124.58 L248.28,125.95 L249.03,127.33 L249.51,128.70 L249.92,130.07 L250.34,131.45 L250.63,132.82 L250.84,134.20 L251.05,135.57 L251.26,136.95 L251.40,138.32 L251.50,139.70 L251.60,141.07 L251.70,142.45 L251.80,143.82 L251.89,145.20 L251.97,146.57 L252.06,147.95 L252.15,149.32 L252.23,150.70 L252.30,152.07 L252.30,153.45 L252.30,154.82 L252.30,156.20 L252.30,157.57 L252.20,158.95 L251.93,160.32 L251.67,161.70 L251.24,163.07 L250.16,164.45 L248.50,165.82 L244.50,167.20 L236.10,167.20 L232.10,165.82 L230.44,164.45 L229.36,163.07 L228.93,161.70 L228.67,160.32 L228.41,158.95 L228.30,157.57 L228.30,156.20 L228.30,154.82 L228.30,153.45 L228.30,152.07 L228.37,150.70 L228.45,149.32 L228.54,147.95 L228.63,146.57 L228.71,145.20 L228.80,143.82 L228.90,142.45 L229.00,141.07 L229.10,139.70 L229.20,138.32 L229.34,136.95 L229.55,135.57 L229.76,134.20 L229.97,132.82 L230.27,131.45 L230.68,130.07 L231.09,128.70 L231.57,127.33 L232.32,125.95 L233.07,124.58 L233.86,123.20 L234.66,121.83 L235.40,120.45 L236.05,119.08 L236.70,117.70 L237.40,116.33 L238.10,114.95 L238.88,113.58 L239.70,112.20Z"/></clipPath>
<path d="M240.90,112.20 L241.73,113.58 L242.50,114.95 L243.20,116.33 L243.90,117.70 L244.55,119.08 L245.20,120.45 L245.94,121.83 L246.74,123.20 L247.53,124.58 L248.28,125.95 L249.03,127.33 L249.51,128.70 L249.92,130.07 L250.34,131.45 L250.63,132.82 L250.84,134.20 L251.05,135.57 L251.26,136.95 L251.40,138.32 L251.50,139.70 L251.60,141.07 L251.70,142.45 L251.80,143.82 L251.89,145.20 L251.97,146.57 L252.06,147.95 L252.15,149.32 L252.23,150.70 L252.30,152.07 L252.30,153.45 L252.30,154.82 L252.30,156.20 L252.30,157.57 L252.20,158.95 L251.93,160.32 L251.67,161.70 L251.24,163.07 L250.16,164.45 L248.50,165.82 L244.50,167.20 L236.10,167.20 L232.10,165.82 L230.44,164.45 L229.36,163.07 L228.93,161.70 L228.67,160.32 L228.41,158.95 L228.30,157.57 L228.30,156.20 L228.30,154.82 L228.30,153.45 L228.30,152.07 L228.37,150.70 L228.45,149.32 L228.54,147.95 L228.63,146.57 L228.71,145.20 L228.80,143.82 L228.90,142.45 L229.00,141.07 L229.10,139.70 L229.20,138.32 L229.34,136.95 L229.55,135.57 L229.76,134.20 L229.97,132.82 L230.27,131.45 L230.68,130.07 L231.09,128.70 L231.57,127.33 L232.32,125.95 L233.07,124.58 L233.86,123.20 L234.66,121.83 L235.40,120.45 L236.05,119.08 L236.70,117.70 L237.40,116.33 L238.10,114.95 L238.88,113.58 L239.70,112.20Z" fill="url(#mv)"/>
<g clip-path="url(#c21)">
<rect x="227.70" y="112.20" width="25.20" height="55.00" fill="url(#mh)"/>
<rect x="227.70" y="112.20" width="25.20" height="55.00" filter="url(#fur)" opacity="0.32"/>
<ellipse cx="240.30" cy="114.95" rx="2.64" ry="3.85" fill="#3e423c" opacity="0.45"/>
<ellipse cx="236.70" cy="117.70" rx="1.2" ry="1.8" fill="#50544e" opacity="0.4"/>
<ellipse cx="243.90" cy="117.70" rx="1.2" ry="1.8" fill="#50544e" opacity="0.4"/>
<ellipse cx="236.34" cy="130.90" rx="1.3" ry="1.2" fill="#40443e" opacity="0.4"/>
<ellipse cx="244.26" cy="130.90" rx="1.3" ry="1.2" fill="#40443e" opacity="0.4"/>

</g>
</g>
<g>
<path d="M257.60,162.50 L251.28,169.80 M271.40,162.50 L277.73,169.80" stroke="#a4a8a1" stroke-width="1.3" stroke-linecap="round" fill="none"/>
<path d="M264.50,167.00 Q264.50,171.25 264.50,174.50" stroke="#9da19a" stroke-width="1.5" fill="none"/>
<clipPath id="c22"><path d="M265.07,113.00 L265.87,114.38 L266.61,115.75 L267.28,117.12 L267.95,118.50 L268.57,119.88 L269.20,121.25 L269.90,122.62 L270.67,124.00 L271.43,125.38 L272.15,126.75 L272.87,128.12 L273.33,129.50 L273.72,130.88 L274.12,132.25 L274.40,133.62 L274.60,135.00 L274.80,136.38 L275.00,137.75 L275.14,139.12 L275.23,140.50 L275.33,141.88 L275.43,143.25 L275.52,144.62 L275.61,146.00 L275.69,147.38 L275.77,148.75 L275.85,150.12 L275.93,151.50 L276.00,152.88 L276.00,154.25 L276.00,155.62 L276.00,157.00 L276.00,158.38 L275.90,159.75 L275.65,161.12 L275.40,162.50 L274.99,163.88 L273.95,165.25 L272.36,166.62 L268.52,168.00 L260.48,168.00 L256.64,166.62 L255.05,165.25 L254.01,163.88 L253.60,162.50 L253.35,161.12 L253.10,159.75 L253.00,158.38 L253.00,157.00 L253.00,155.62 L253.00,154.25 L253.00,152.88 L253.07,151.50 L253.15,150.12 L253.23,148.75 L253.31,147.38 L253.39,146.00 L253.48,144.62 L253.57,143.25 L253.67,141.88 L253.77,140.50 L253.86,139.12 L254.00,137.75 L254.20,136.38 L254.40,135.00 L254.60,133.62 L254.88,132.25 L255.28,130.88 L255.67,129.50 L256.13,128.12 L256.85,126.75 L257.57,125.38 L258.33,124.00 L259.10,122.62 L259.80,121.25 L260.43,119.88 L261.05,118.50 L261.72,117.12 L262.39,115.75 L263.13,114.38 L263.93,113.00Z"/></clipPath>
<path d="M265.07,113.00 L265.87,114.38 L266.61,115.75 L267.28,117.12 L267.95,118.50 L268.57,119.88 L269.20,121.25 L269.90,122.62 L270.67,124.00 L271.43,125.38 L272.15,126.75 L272.87,128.12 L273.33,129.50 L273.72,130.88 L274.12,132.25 L274.40,133.62 L274.60,135.00 L274.80,136.38 L275.00,137.75 L275.14,139.12 L275.23,140.50 L275.33,141.88 L275.43,143.25 L275.52,144.62 L275.61,146.00 L275.69,147.38 L275.77,148.75 L275.85,150.12 L275.93,151.50 L276.00,152.88 L276.00,154.25 L276.00,155.62 L276.00,157.00 L276.00,158.38 L275.90,159.75 L275.65,161.12 L275.40,162.50 L274.99,163.88 L273.95,165.25 L272.36,166.62 L268.52,168.00 L260.48,168.00 L256.64,166.62 L255.05,165.25 L254.01,163.88 L253.60,162.50 L253.35,161.12 L253.10,159.75 L253.00,158.38 L253.00,157.00 L253.00,155.62 L253.00,154.25 L253.00,152.88 L253.07,151.50 L253.15,150.12 L253.23,148.75 L253.31,147.38 L253.39,146.00 L253.48,144.62 L253.57,143.25 L253.67,141.88 L253.77,140.50 L253.86,139.12 L254.00,137.75 L254.20,136.38 L254.40,135.00 L254.60,133.62 L254.88,132.25 L255.28,130.88 L255.67,129.50 L256.13,128.12 L256.85,126.75 L257.57,125.38 L258.33,124.00 L259.10,122.62 L259.80,121.25 L260.43,119.88 L261.05,118.50 L261.72,117.12 L262.39,115.75 L263.13,114.38 L263.93,113.00Z" fill="url(#mv)"/>
<g clip-path="url(#c22)">
<rect x="252.43" y="113.00" width="24.15" height="55.00" fill="url(#mh)"/>
<rect x="252.43" y="113.00" width="24.15" height="55.00" filter="url(#fur)" opacity="0.32"/>
<ellipse cx="264.50" cy="115.75" rx="2.53" ry="3.85" fill="#3e423c" opacity="0.45"/>
<ellipse cx="261.05" cy="118.50" rx="1.2" ry="1.8" fill="#50544e" opacity="0.4"/>
<ellipse cx="267.95" cy="118.50" rx="1.2" ry="1.8" fill="#50544e" opacity="0.4"/>
<ellipse cx="260.70" cy="131.70" rx="1.3" ry="1.2" fill="#40443e" opacity="0.4"/>
<ellipse cx="268.30" cy="131.70" rx="1.3" ry="1.2" fill="#40443e" opacity="0.4"/>

</g>
</g>
<g>
<path d="M284.00,159.80 L277.95,166.80 M297.20,159.80 L303.25,166.80" stroke="#a4a8a1" stroke-width="1.3" stroke-linecap="round" fill="none"/>
<path d="M290.60,164.00 Q290.60,169.75 290.60,174.50" stroke="#9da19a" stroke-width="1.5" fill="none"/>
<clipPath id="c23"><path d="M291.15,113.00 L291.91,114.30 L292.62,115.60 L293.26,116.90 L293.90,118.20 L294.50,119.50 L295.09,120.80 L295.77,122.10 L296.50,123.40 L297.23,124.70 L297.92,126.00 L298.60,127.30 L299.04,128.60 L299.42,129.90 L299.80,131.20 L300.07,132.50 L300.26,133.80 L300.45,135.10 L300.64,136.40 L300.78,137.70 L300.87,139.00 L300.96,140.30 L301.05,141.60 L301.14,142.90 L301.22,144.20 L301.30,145.50 L301.38,146.80 L301.46,148.10 L301.54,149.40 L301.60,150.70 L301.60,152.00 L301.60,153.30 L301.60,154.60 L301.60,155.90 L301.50,157.20 L301.26,158.50 L301.02,159.80 L300.63,161.10 L299.64,162.40 L298.12,163.70 L294.45,165.00 L286.75,165.00 L283.08,163.70 L281.56,162.40 L280.57,161.10 L280.18,159.80 L279.94,158.50 L279.70,157.20 L279.60,155.90 L279.60,154.60 L279.60,153.30 L279.60,152.00 L279.60,150.70 L279.66,149.40 L279.74,148.10 L279.82,146.80 L279.90,145.50 L279.98,144.20 L280.06,142.90 L280.15,141.60 L280.24,140.30 L280.33,139.00 L280.43,137.70 L280.56,136.40 L280.75,135.10 L280.94,133.80 L281.13,132.50 L281.40,131.20 L281.78,129.90 L282.16,128.60 L282.60,127.30 L283.29,126.00 L283.97,124.70 L284.70,123.40 L285.43,122.10 L286.11,120.80 L286.70,119.50 L287.30,118.20 L287.94,116.90 L288.58,115.60 L289.29,114.30 L290.05,113.00Z"/></clipPath>
<path d="M291.15,113.00 L291.91,114.30 L292.62,115.60 L293.26,116.90 L293.90,118.20 L294.50,119.50 L295.09,120.80 L295.77,122.10 L296.50,123.40 L297.23,124.70 L297.92,126.00 L298.60,127.30 L299.04,128.60 L299.42,129.90 L299.80,131.20 L300.07,132.50 L300.26,133.80 L300.45,135.10 L300.64,136.40 L300.78,137.70 L300.87,139.00 L300.96,140.30 L301.05,141.60 L301.14,142.90 L301.22,144.20 L301.30,145.50 L301.38,146.80 L301.46,148.10 L301.54,149.40 L301.60,150.70 L301.60,152.00 L301.60,153.30 L301.60,154.60 L301.60,155.90 L301.50,157.20 L301.26,158.50 L301.02,159.80 L300.63,161.10 L299.64,162.40 L298.12,163.70 L294.45,165.00 L286.75,165.00 L283.08,163.70 L281.56,162.40 L280.57,161.10 L280.18,159.80 L279.94,158.50 L279.70,157.20 L279.60,155.90 L279.60,154.60 L279.60,153.30 L279.60,152.00 L279.60,150.70 L279.66,149.40 L279.74,148.10 L279.82,146.80 L279.90,145.50 L279.98,144.20 L280.06,142.90 L280.15,141.60 L280.24,140.30 L280.33,139.00 L280.43,137.70 L280.56,136.40 L280.75,135.10 L280.94,133.80 L281.13,132.50 L281.40,131.20 L281.78,129.90 L282.16,128.60 L282.60,127.30 L283.29,126.00 L283.97,124.70 L284.70,123.40 L285.43,122.10 L286.11,120.80 L286.70,119.50 L287.30,118.20 L287.94,116.90 L288.58,115.60 L289.29,114.30 L290.05,113.00Z" fill="url(#mv)"/>
<g clip-path="url(#c23)">
<rect x="279.05" y="113.00" width="23.10" height="52.00" fill="url(#mh)"/>
<rect x="279.05" y="113.00" width="23.10" height="52.00" filter="url(#fur)" opacity="0.32"/>
<ellipse cx="290.60" cy="115.60" rx="2.42" ry="3.64" fill="#3e423c" opacity="0.45"/>
<ellipse cx="287.30" cy="118.20" rx="1.2" ry="1.8" fill="#50544e" opacity="0.4"/>
<ellipse cx="293.90" cy="118.20" rx="1.2" ry="1.8" fill="#50544e" opacity="0.4"/>
<ellipse cx="286.97" cy="130.68" rx="1.3" ry="1.2" fill="#40443e" opacity="0.4"/>
<ellipse cx="294.23" cy="130.68" rx="1.3" ry="1.2" fill="#40443e" opacity="0.4"/>

</g>
</g>
<g>
<path d="M310.20,158.00 L304.43,164.80 M322.80,158.00 L328.57,164.80" stroke="#a4a8a1" stroke-width="1.3" stroke-linecap="round" fill="none"/>
<path d="M316.50,162.00 Q316.50,168.75 316.50,174.50" stroke="#9da19a" stroke-width="1.5" fill="none"/>
<clipPath id="c24"><path d="M317.02,113.00 L317.75,114.25 L318.43,115.50 L319.04,116.75 L319.65,118.00 L320.22,119.25 L320.79,120.50 L321.44,121.75 L322.13,123.00 L322.83,124.25 L323.48,125.50 L324.14,126.75 L324.56,128.00 L324.92,129.25 L325.28,130.50 L325.54,131.75 L325.72,133.00 L325.90,134.25 L326.09,135.50 L326.21,136.75 L326.30,138.00 L326.39,139.25 L326.48,140.50 L326.56,141.75 L326.64,143.00 L326.71,144.25 L326.79,145.50 L326.87,146.75 L326.94,148.00 L327.00,149.25 L327.00,150.50 L327.00,151.75 L327.00,153.00 L327.00,154.25 L326.91,155.50 L326.68,156.75 L326.45,158.00 L326.08,159.25 L325.13,160.50 L323.68,161.75 L320.18,163.00 L312.82,163.00 L309.32,161.75 L307.87,160.50 L306.92,159.25 L306.55,158.00 L306.32,156.75 L306.09,155.50 L306.00,154.25 L306.00,153.00 L306.00,151.75 L306.00,150.50 L306.00,149.25 L306.06,148.00 L306.13,146.75 L306.21,145.50 L306.29,144.25 L306.36,143.00 L306.44,141.75 L306.52,140.50 L306.61,139.25 L306.70,138.00 L306.79,136.75 L306.91,135.50 L307.10,134.25 L307.28,133.00 L307.46,131.75 L307.72,130.50 L308.08,129.25 L308.44,128.00 L308.86,126.75 L309.52,125.50 L310.17,124.25 L310.87,123.00 L311.56,121.75 L312.21,120.50 L312.78,119.25 L313.35,118.00 L313.96,116.75 L314.57,115.50 L315.25,114.25 L315.98,113.00Z"/></clipPath>
<path d="M317.02,113.00 L317.75,114.25 L318.43,115.50 L319.04,116.75 L319.65,118.00 L320.22,119.25 L320.79,120.50 L321.44,121.75 L322.13,123.00 L322.83,124.25 L323.48,125.50 L324.14,126.75 L324.56,128.00 L324.92,129.25 L325.28,130.50 L325.54,131.75 L325.72,133.00 L325.90,134.25 L326.09,135.50 L326.21,136.75 L326.30,138.00 L326.39,139.25 L326.48,140.50 L326.56,141.75 L326.64,143.00 L326.71,144.25 L326.79,145.50 L326.87,146.75 L326.94,148.00 L327.00,149.25 L327.00,150.50 L327.00,151.75 L327.00,153.00 L327.00,154.25 L326.91,155.50 L326.68,156.75 L326.45,158.00 L326.08,159.25 L325.13,160.50 L323.68,161.75 L320.18,163.00 L312.82,163.00 L309.32,161.75 L307.87,160.50 L306.92,159.25 L306.55,158.00 L306.32,156.75 L306.09,155.50 L306.00,154.25 L306.00,153.00 L306.00,151.75 L306.00,150.50 L306.00,149.25 L306.06,148.00 L306.13,146.75 L306.21,145.50 L306.29,144.25 L306.36,143.00 L306.44,141.75 L306.52,140.50 L306.61,139.25 L306.70,138.00 L306.79,136.75 L306.91,135.50 L307.10,134.25 L307.28,133.00 L307.46,131.75 L307.72,130.50 L308.08,129.25 L308.44,128.00 L308.86,126.75 L309.52,125.50 L310.17,124.25 L310.87,123.00 L311.56,121.75 L312.21,120.50 L312.78,119.25 L313.35,118.00 L313.96,116.75 L314.57,115.50 L315.25,114.25 L315.98,113.00Z" fill="url(#mv)"/>
<g clip-path="url(#c24)">
<rect x="305.48" y="113.00" width="22.05" height="50.00" fill="url(#mh)"/>
<rect x="305.48" y="113.00" width="22.05" height="50.00" filter="url(#fur)" opacity="0.32"/>
<ellipse cx="316.50" cy="115.50" rx="2.31" ry="3.50" fill="#3e423c" opacity="0.45"/>
<ellipse cx="313.35" cy="118.00" rx="1.2" ry="1.8" fill="#50544e" opacity="0.4"/>
<ellipse cx="319.65" cy="118.00" rx="1.2" ry="1.8" fill="#50544e" opacity="0.4"/>
<ellipse cx="313.04" cy="130.00" rx="1.3" ry="1.2" fill="#40443e" opacity="0.4"/>
<ellipse cx="319.96" cy="130.00" rx="1.3" ry="1.2" fill="#40443e" opacity="0.4"/>

</g>
</g>
<ellipse cx="240.5" cy="115.2" rx="2.5" ry="2.3" fill="#3418f2"/>
<ellipse cx="264.3" cy="116.2" rx="1.8" ry="1.4" fill="#3418f2"/>
<ellipse cx="291.9" cy="124.2" rx="4.6" ry="4.2" fill="#3418f2"/>
<path d="M313.1,117.9 L322.3,117.9 L323.9,124 L323.7,130 L313,130.5 L308,129 L307.6,124.5 L312,122Z" fill="#3418f2"/><ellipse cx="318.7" cy="125.3" rx="4.6" ry="4.1" fill="#30e8c8"/><ellipse cx="318.7" cy="125.3" rx="3.7" ry="3.3" fill="#3cf000"/><ellipse cx="318.9" cy="125.4" rx="2.3" ry="2.0" fill="#e8f000"/><ellipse cx="319.1" cy="125.5" rx="1.5" ry="1.2" fill="#f40a0a"/>
</g>
<circle cx="125.5" cy="161.5" r="1.0" fill="#4030f0"/>
<circle cx="154.3" cy="139.9" r="0.9" fill="#e05a80"/>
<circle cx="158.4" cy="137.8" r="0.8" fill="#e05a80"/>
<circle cx="151" cy="149.8" r="1.0" fill="#e0507a"/>
<circle cx="152.5" cy="159.6" r="0.8" fill="#d86080"/>
<circle cx="213.5" cy="126.5" r="0.9" fill="#d03050"/>
<circle cx="212.5" cy="138.2" r="0.8" fill="#a090f0"/>
<circle cx="203.3" cy="151" r="0.9" fill="#c0e060"/>
<circle cx="207.5" cy="150" r="0.8" fill="#a090f0"/>
<circle cx="212.5" cy="152" r="0.9" fill="#6050f0"/>
<circle cx="214.5" cy="150.8" r="0.7" fill="#e07090"/>
<circle cx="213" cy="159.5" r="0.9" fill="#d03050"/>
<circle cx="213" cy="161.2" r="0.7" fill="#e07090"/>
<circle cx="215.5" cy="77.5" r="1.0" fill="#c02060"/>
<circle cx="181.9" cy="61.9" r="0.9" fill="#50e040"/>
<defs><linearGradient id="cb" x1="0" y1="0" x2="0" y2="1">
<stop offset="0" stop-color="#ff0000"/>
<stop offset="0.08" stop-color="#ff1000"/>
<stop offset="0.14" stop-color="#ff7a00"/>
<stop offset="0.20" stop-color="#ffe000"/>
<stop offset="0.26" stop-color="#d8f000"/>
<stop offset="0.35" stop-color="#80e800"/>
<stop offset="0.45" stop-color="#40dd10"/>
<stop offset="0.60" stop-color="#30d840"/>
<stop offset="0.68" stop-color="#30d8a0"/>
<stop offset="0.73" stop-color="#40e0f0"/>
<stop offset="0.78" stop-color="#40a0ff"/>
<stop offset="0.86" stop-color="#3860ff"/>
<stop offset="1" stop-color="#3520f0"/>
</linearGradient></defs>
<rect x="329.6" y="36.8" width="6" height="138.8" fill="url(#cb)" stroke="#222" stroke-width="0.4"/>
<line x1="335.6" y1="176.20" x2="338.3" y2="176.20" stroke="#333" stroke-width="0.6"/>
<line x1="335.6" y1="167.64" x2="337.8" y2="167.64" stroke="#333" stroke-width="0.6"/>
<line x1="335.6" y1="159.08" x2="337.8" y2="159.08" stroke="#333" stroke-width="0.6"/>
<line x1="335.6" y1="150.52" x2="337.8" y2="150.52" stroke="#333" stroke-width="0.6"/>
<line x1="335.6" y1="141.96" x2="337.8" y2="141.96" stroke="#333" stroke-width="0.6"/>
<line x1="335.6" y1="133.40" x2="338.3" y2="133.40" stroke="#333" stroke-width="0.6"/>
<line x1="335.6" y1="124.84" x2="337.8" y2="124.84" stroke="#333" stroke-width="0.6"/>
<line x1="335.6" y1="116.28" x2="337.8" y2="116.28" stroke="#333" stroke-width="0.6"/>
<line x1="335.6" y1="107.72" x2="337.8" y2="107.72" stroke="#333" stroke-width="0.6"/>
<line x1="335.6" y1="99.16" x2="337.8" y2="99.16" stroke="#333" stroke-width="0.6"/>
<line x1="335.6" y1="90.60" x2="338.3" y2="90.60" stroke="#333" stroke-width="0.6"/>
<line x1="335.6" y1="82.04" x2="337.8" y2="82.04" stroke="#333" stroke-width="0.6"/>
<line x1="335.6" y1="73.48" x2="337.8" y2="73.48" stroke="#333" stroke-width="0.6"/>
<line x1="335.6" y1="64.92" x2="337.8" y2="64.92" stroke="#333" stroke-width="0.6"/>
<line x1="335.6" y1="56.36" x2="337.8" y2="56.36" stroke="#333" stroke-width="0.6"/>
<line x1="335.6" y1="47.80" x2="338.3" y2="47.80" stroke="#333" stroke-width="0.6"/>
<line x1="335.6" y1="39.24" x2="337.8" y2="39.24" stroke="#333" stroke-width="0.6"/>
<text x="342.6" y="50.20000000000001" font-size="8" text-anchor="start" font-weight="normal" fill="#000" stroke="#000" stroke-width="0.22" >6000</text>
<text x="342.6" y="93.00000000000001" font-size="8" text-anchor="start" font-weight="normal" fill="#000" stroke="#000" stroke-width="0.22" >4000</text>
<text x="342.6" y="135.8" font-size="8" text-anchor="start" font-weight="normal" fill="#000" stroke="#000" stroke-width="0.22" >2000</text>
<text x="342.6" y="178.6" font-size="8" text-anchor="start" font-weight="normal" fill="#000" stroke="#000" stroke-width="0.22" >0</text>
<text x="9.8" y="212.1" font-size="10.5" text-anchor="start" font-weight="bold" fill="#000" >B</text>
<line x1="59.6" y1="221.3" x2="59.6" y2="360.4" stroke="#000" stroke-width="1.3"/>
<line x1="54" y1="359.8" x2="270.3" y2="359.8" stroke="#000" stroke-width="1.3"/>
<line x1="54" y1="222.28" x2="59.6" y2="222.28" stroke="#000" stroke-width="1.1"/>
<text x="51" y="224.68000000000004" font-size="8.5" text-anchor="end" font-weight="normal" fill="#000" stroke="#000" stroke-width="0.22" letter-spacing="-0.35">10000</text>
<line x1="54" y1="249.86" x2="59.6" y2="249.86" stroke="#000" stroke-width="1.1"/>
<text x="51" y="252.26000000000002" font-size="8.5" text-anchor="end" font-weight="normal" fill="#000" stroke="#000" stroke-width="0.22" letter-spacing="-0.35">1000</text>
<line x1="54" y1="277.44" x2="59.6" y2="277.44" stroke="#000" stroke-width="1.1"/>
<text x="51" y="279.84000000000003" font-size="8.5" text-anchor="end" font-weight="normal" fill="#000" stroke="#000" stroke-width="0.22" letter-spacing="-0.35">100</text>
<line x1="54" y1="305.02" x2="59.6" y2="305.02" stroke="#000" stroke-width="1.1"/>
<text x="51" y="307.42" font-size="8.5" text-anchor="end" font-weight="normal" fill="#000" stroke="#000" stroke-width="0.22" letter-spacing="-0.35">10</text>
<line x1="54" y1="332.60" x2="59.6" y2="332.60" stroke="#000" stroke-width="1.1"/>
<text x="51" y="335.0" font-size="8.5" text-anchor="end" font-weight="normal" fill="#000" stroke="#000" stroke-width="0.22" letter-spacing="-0.35">1</text>
<line x1="54" y1="360.18" x2="59.6" y2="360.18" stroke="#000" stroke-width="1.1"/>
<text x="51" y="362.58" font-size="8.5" text-anchor="end" font-weight="normal" fill="#000" stroke="#000" stroke-width="0.22" letter-spacing="-0.35">0.1</text>
<line x1="59.70" y1="359.8" x2="59.70" y2="365.8" stroke="#000" stroke-width="1.1"/>
<text x="59.7" y="375.9" font-size="7.4" text-anchor="middle" font-weight="normal" fill="#000" stroke="#000" stroke-width="0.22" >0</text>
<line x1="101.60" y1="359.8" x2="101.60" y2="365.8" stroke="#000" stroke-width="1.1"/>
<text x="101.6" y="375.9" font-size="7.4" text-anchor="middle" font-weight="normal" fill="#000" stroke="#000" stroke-width="0.22" >1</text>
<line x1="143.50" y1="359.8" x2="143.50" y2="365.8" stroke="#000" stroke-width="1.1"/>
<text x="143.5" y="375.9" font-size="7.4" text-anchor="middle" font-weight="normal" fill="#000" stroke="#000" stroke-width="0.22" >2</text>
<line x1="185.40" y1="359.8" x2="185.40" y2="365.8" stroke="#000" stroke-width="1.1"/>
<text x="185.39999999999998" y="375.9" font-size="7.4" text-anchor="middle" font-weight="normal" fill="#000" stroke="#000" stroke-width="0.22" >3</text>
<line x1="227.30" y1="359.8" x2="227.30" y2="365.8" stroke="#000" stroke-width="1.1"/>
<text x="227.3" y="375.9" font-size="7.4" text-anchor="middle" font-weight="normal" fill="#000" stroke="#000" stroke-width="0.22" >4</text>
<line x1="269.20" y1="359.8" x2="269.20" y2="365.8" stroke="#000" stroke-width="1.1"/>
<text x="269.2" y="375.9" font-size="7.4" text-anchor="middle" font-weight="normal" fill="#000" stroke="#000" stroke-width="0.22" >5</text>
<g transform="translate(164.5,388.4) scale(0.69,1)"><text x="0" y="0" font-size="9" text-anchor="middle">Weeks</text></g>
<g transform="translate(26.3,291) rotate(-90) scale(0.7,1)"><text x="0" y="0" font-size="9.2" text-anchor="middle" stroke="#000" stroke-width="0.25">Normalized photon flux</text></g>
<polyline points="59.70,338.7 101.60,339.3 143.50,336.7 185.40,337.9 227.30,339.8 269.20,338.4" fill="none" stroke="#3cf814" stroke-width="1.3"/>
<polyline points="59.70,276.6 101.60,312.8 143.50,307.5 185.40,299.4 227.30,288.8 269.20,282.5" fill="none" stroke="#cc1122" stroke-width="1.3"/>
<polyline points="59.70,276.8 101.60,310.9 143.50,296.8 185.40,280.8 227.30,261.9 269.20,228.6" fill="none" stroke="#1133bb" stroke-width="1.3"/>
<path d="M56.90,272.4 H62.50 M59.70,272.4 V285.6 M56.90,285.6 H62.50" stroke="#cc1122" stroke-width="1.1" fill="none"/>
<rect x="57.10" y="274.0" width="5.2" height="5.2" fill="#cc1122"/>
<path d="M98.80,306.8 H104.40 M101.60,306.8 V322.2 M98.80,322.2 H104.40" stroke="#cc1122" stroke-width="1.1" fill="none"/>
<rect x="99.00" y="310.2" width="5.2" height="5.2" fill="#cc1122"/>
<path d="M140.70,302.4 H146.30 M143.50,302.4 V315.6 M140.70,315.6 H146.30" stroke="#cc1122" stroke-width="1.1" fill="none"/>
<rect x="140.90" y="304.9" width="5.2" height="5.2" fill="#cc1122"/>
<path d="M182.60,295.4 H188.20 M185.40,295.4 V305.9 M182.60,305.9 H188.20" stroke="#cc1122" stroke-width="1.1" fill="none"/>
<rect x="182.80" y="296.79999999999995" width="5.2" height="5.2" fill="#cc1122"/>
<path d="M224.50,283.7 H230.10 M227.30,283.7 V298.3 M224.50,298.3 H230.10" stroke="#cc1122" stroke-width="1.1" fill="none"/>
<rect x="224.70" y="286.2" width="5.2" height="5.2" fill="#cc1122"/>
<path d="M266.40,278.7 H272.00 M269.20,278.7 V289.2 M266.40,289.2 H272.00" stroke="#cc1122" stroke-width="1.1" fill="none"/>
<rect x="266.60" y="279.9" width="5.2" height="5.2" fill="#cc1122"/>
<path d="M56.90,273.3 H62.50 M59.70,273.3 V283.0 M56.90,283.0 H62.50" stroke="#1133bb" stroke-width="1.1" fill="none"/>
<circle cx="59.70" cy="276.8" r="2.7" fill="#1133bb"/>
<path d="M98.80,307.6 H104.40 M101.60,307.6 V315.0 M98.80,315.0 H104.40" stroke="#1133bb" stroke-width="1.1" fill="none"/>
<circle cx="101.60" cy="310.9" r="2.7" fill="#1133bb"/>
<path d="M140.70,292.3 H146.30 M143.50,292.3 V302.8 M140.70,302.8 H146.30" stroke="#1133bb" stroke-width="1.1" fill="none"/>
<circle cx="143.50" cy="296.8" r="2.7" fill="#1133bb"/>
<path d="M182.60,276.2 H188.20 M185.40,276.2 V286.9 M182.60,286.9 H188.20" stroke="#1133bb" stroke-width="1.1" fill="none"/>
<circle cx="185.40" cy="280.8" r="2.7" fill="#1133bb"/>
<path d="M224.50,256.5 H230.10 M227.30,256.5 V271.2 M224.50,271.2 H230.10" stroke="#1133bb" stroke-width="1.1" fill="none"/>
<circle cx="227.30" cy="261.9" r="2.7" fill="#1133bb"/>
<path d="M266.40,224.7 H272.00 M269.20,224.7 V233.6 M266.40,233.6 H272.00" stroke="#1133bb" stroke-width="1.1" fill="none"/>
<circle cx="269.20" cy="228.6" r="2.7" fill="#1133bb"/>
<path d="M59.70,336.0 L63.00,341.9 L56.40,341.9 Z" fill="#3cf814"/>
<path d="M101.60,336.6 L104.90,342.5 L98.30,342.5 Z" fill="#3cf814"/>
<path d="M143.50,334.0 L146.80,339.9 L140.20,339.9 Z" fill="#3cf814"/>
<path d="M185.40,335.2 L188.70,341.09999999999997 L182.10,341.09999999999997 Z" fill="#3cf814"/>
<path d="M227.30,337.1 L230.60,343.0 L224.00,343.0 Z" fill="#3cf814"/>
<path d="M269.20,335.7 L272.50,341.59999999999997 L265.90,341.59999999999997 Z" fill="#3cf814"/>
<line x1="81.9" y1="230.5" x2="96.8" y2="230.5" stroke="#3cf814" stroke-width="1.3"/>
<path d="M89.2,227 L92.2,232.6 L86.2,232.6 Z" fill="#3cf814"/>
<line x1="81.9" y1="244.6" x2="96.8" y2="244.6" stroke="#1133bb" stroke-width="1.3"/>
<circle cx="89.2" cy="244.6" r="2.6" fill="#1133bb"/>
<line x1="81.9" y1="261.2" x2="96.8" y2="261.2" stroke="#cc1122" stroke-width="1.3"/>
<rect x="86.6" y="258.6" width="5.2" height="5.2" fill="#cc1122"/>
<text x="101" y="232.7" font-size="7.2" text-anchor="start" font-weight="normal" fill="#000" stroke="#000" stroke-width="0.22" >Background</text>
<text x="101" y="246.9" font-size="7.35" text-anchor="start" font-weight="normal" fill="#000" stroke="#000" stroke-width="0.22" >U2932 Mock</text>
<text x="101" y="263.5" font-size="7.35" text-anchor="start" font-weight="normal" fill="#000" stroke="#000" stroke-width="0.22" >U2932 HGAL</text>
<text x="376.8" y="13.4" font-size="10.5" text-anchor="start" font-weight="bold" fill="#000" >C</text>
<line x1="412.9" y1="12.3" x2="412.9" y2="174.8" stroke="#000" stroke-width="1.5"/>
<line x1="410.2" y1="174.2" x2="499.2" y2="174.2" stroke="#000" stroke-width="1.5"/>
<line x1="410.1" y1="174.10" x2="412.9" y2="174.10" stroke="#000" stroke-width="1"/>
<text x="407.3" y="177.0" font-size="8.6" text-anchor="end" font-weight="normal" fill="#000" stroke="#000" stroke-width="0.22" >0</text>
<line x1="410.1" y1="136.18" x2="412.9" y2="136.18" stroke="#000" stroke-width="1"/>
<text x="407.3" y="139.08" font-size="8.6" text-anchor="end" font-weight="normal" fill="#000" stroke="#000" stroke-width="0.22" >2</text>
<line x1="410.1" y1="98.26" x2="412.9" y2="98.26" stroke="#000" stroke-width="1"/>
<text x="407.3" y="101.16" font-size="8.6" text-anchor="end" font-weight="normal" fill="#000" stroke="#000" stroke-width="0.22" >4</text>
<line x1="410.1" y1="60.34" x2="412.9" y2="60.34" stroke="#000" stroke-width="1"/>
<text x="407.3" y="63.23999999999999" font-size="8.6" text-anchor="end" font-weight="normal" fill="#000" stroke="#000" stroke-width="0.22" >6</text>
<line x1="410.1" y1="22.42" x2="412.9" y2="22.42" stroke="#000" stroke-width="1"/>
<text x="407.3" y="25.319999999999986" font-size="8.6" text-anchor="end" font-weight="normal" fill="#000" stroke="#000" stroke-width="0.22" >8</text>
<line x1="434.4" y1="174.2" x2="434.4" y2="177" stroke="#000" stroke-width="1"/>
<line x1="477.0" y1="174.2" x2="477.0" y2="177" stroke="#000" stroke-width="1"/>
<text x="434.3" y="187.6" font-size="8.3" text-anchor="middle" font-weight="normal" fill="#222" stroke="#222" stroke-width="0.22" >U2932</text>
<text x="434.3" y="197.2" font-size="8.3" text-anchor="middle" font-weight="normal" fill="#222" stroke="#222" stroke-width="0.22" >Mock</text>
<text x="477.7" y="187.6" font-size="8.3" text-anchor="middle" font-weight="normal" fill="#222" stroke="#222" stroke-width="0.22" >U2932</text>
<text x="477.7" y="197.2" font-size="8.3" text-anchor="middle" font-weight="normal" fill="#222" stroke="#222" stroke-width="0.22" >HGAL</text>
<g transform="translate(397.4,94) rotate(-90) scale(0.635,1)"><text x="0" y="0" font-size="9.2" text-anchor="middle" stroke="#000" stroke-width="0.25">Number of tumors</text></g>
<line x1="433.3" y1="14.5" x2="446.5" y2="14.5" stroke="#000" stroke-width="1.2"/>
<line x1="467.4" y1="14.5" x2="480.9" y2="14.5" stroke="#000" stroke-width="1.2"/>
<circle cx="451.40" cy="15.1" r="0.95" fill="#111"/>
<circle cx="455.00" cy="15.1" r="0.95" fill="#111"/>
<circle cx="458.60" cy="15.1" r="0.95" fill="#111"/>
<circle cx="462.20" cy="15.1" r="0.95" fill="#111"/>
<line x1="434.2" y1="62.4" x2="434.2" y2="129.5" stroke="#0a36b0" stroke-width="1.3"/>
<line x1="427" y1="62.4" x2="441.6" y2="62.4" stroke="#0a36b0" stroke-width="1.3"/>
<line x1="427" y1="129.5" x2="441.6" y2="129.5" stroke="#0a36b0" stroke-width="1.3"/>
<line x1="419.8" y1="95.9" x2="448.6" y2="95.9" stroke="#0a36b0" stroke-width="1.3"/>
<circle cx="434.40" cy="31.90" r="2.35" fill="#0a36b0"/>
<circle cx="434.40" cy="41.38" r="2.35" fill="#0a36b0"/>
<circle cx="432.20" cy="60.34" r="2.35" fill="#0a36b0"/>
<circle cx="436.60" cy="60.34" r="2.35" fill="#0a36b0"/>
<circle cx="432.60" cy="79.30" r="2.35" fill="#0a36b0"/>
<circle cx="436.80" cy="79.30" r="2.35" fill="#0a36b0"/>
<circle cx="432.40" cy="98.26" r="2.35" fill="#0a36b0"/>
<circle cx="436.50" cy="98.26" r="2.35" fill="#0a36b0"/>
<circle cx="432.10" cy="136.18" r="2.35" fill="#0a36b0"/>
<circle cx="436.40" cy="136.18" r="2.35" fill="#0a36b0"/>
<circle cx="421.60" cy="117.22" r="2.35" fill="#0a36b0"/>
<circle cx="425.17" cy="117.22" r="2.35" fill="#0a36b0"/>
<circle cx="428.74" cy="117.22" r="2.35" fill="#0a36b0"/>
<circle cx="432.31" cy="117.22" r="2.35" fill="#0a36b0"/>
<circle cx="435.88" cy="117.22" r="2.35" fill="#0a36b0"/>
<circle cx="439.45" cy="117.22" r="2.35" fill="#0a36b0"/>
<circle cx="443.02" cy="117.22" r="2.35" fill="#0a36b0"/>
<circle cx="446.59" cy="117.22" r="2.35" fill="#0a36b0"/>
<line x1="476.8" y1="148.3" x2="476.8" y2="164.6" stroke="#c8102e" stroke-width="1.3"/>
<line x1="470" y1="148.3" x2="484.4" y2="148.3" stroke="#c8102e" stroke-width="1.3"/>
<line x1="470" y1="164.6" x2="484.4" y2="164.6" stroke="#c8102e" stroke-width="1.3"/>
<line x1="464.3" y1="155.3" x2="489.9" y2="155.3" stroke="#c8102e" stroke-width="4.8" stroke-linecap="round"/>
<circle cx="476.8" cy="136.4" r="2.3" fill="#c8102e"/>
<circle cx="476" cy="173.9" r="2.3" fill="#c8102e"/>
<circle cx="478" cy="173.9" r="2.3" fill="#c8102e"/>
<text x="299" y="211.9" font-size="10.5" text-anchor="start" font-weight="bold" fill="#000" >D</text>
<line x1="336.3" y1="242.4" x2="336.3" y2="361.3" stroke="#000" stroke-width="1.3"/>
<line x1="333" y1="360.7" x2="514.4" y2="360.7" stroke="#000" stroke-width="1.3"/>
<line x1="333" y1="360.70" x2="336.3" y2="360.70" stroke="#000" stroke-width="0.9"/>
<line x1="334.2" y1="348.90" x2="336.3" y2="348.90" stroke="#000" stroke-width="0.9"/>
<line x1="334.2" y1="337.10" x2="336.3" y2="337.10" stroke="#000" stroke-width="0.9"/>
<line x1="334.2" y1="325.30" x2="336.3" y2="325.30" stroke="#000" stroke-width="0.9"/>
<line x1="334.2" y1="313.50" x2="336.3" y2="313.50" stroke="#000" stroke-width="0.9"/>
<line x1="333" y1="301.70" x2="336.3" y2="301.70" stroke="#000" stroke-width="0.9"/>
<line x1="334.2" y1="289.90" x2="336.3" y2="289.90" stroke="#000" stroke-width="0.9"/>
<line x1="334.2" y1="278.10" x2="336.3" y2="278.10" stroke="#000" stroke-width="0.9"/>
<line x1="334.2" y1="266.30" x2="336.3" y2="266.30" stroke="#000" stroke-width="0.9"/>
<line x1="334.2" y1="254.50" x2="336.3" y2="254.50" stroke="#000" stroke-width="0.9"/>
<line x1="333" y1="242.70" x2="336.3" y2="242.70" stroke="#000" stroke-width="0.9"/>
<text x="331" y="363.3" font-size="8" text-anchor="end" font-weight="normal" fill="#000" stroke="#000" stroke-width="0.22" >0</text>
<text x="331" y="304.3" font-size="8" text-anchor="end" font-weight="normal" fill="#000" stroke="#000" stroke-width="0.22" >50</text>
<text x="331" y="245.29999999999998" font-size="8" text-anchor="end" font-weight="normal" fill="#000" stroke="#000" stroke-width="0.22" >100</text>
<line x1="336.30" y1="360.7" x2="336.30" y2="363.6" stroke="#000" stroke-width="0.9"/>
<text x="336.3" y="373.2" font-size="8.2" text-anchor="middle" font-weight="normal" fill="#000" stroke="#000" stroke-width="0.22" >0</text>
<line x1="409.90" y1="360.7" x2="409.90" y2="363.6" stroke="#000" stroke-width="0.9"/>
<text x="409.9" y="373.2" font-size="8.2" text-anchor="middle" font-weight="normal" fill="#000" stroke="#000" stroke-width="0.22" >50</text>
<line x1="483.50" y1="360.7" x2="483.50" y2="363.6" stroke="#000" stroke-width="0.9"/>
<text x="483.5" y="373.2" font-size="8.2" text-anchor="middle" font-weight="normal" fill="#000" stroke="#000" stroke-width="0.22" >100</text>
<g transform="translate(414.3,389.3) scale(0.7,1)"><text x="0" y="0" font-size="9" text-anchor="middle">Days</text></g>
<g transform="translate(311.9,301.8) rotate(-90) scale(0.8,1)"><text x="0" y="0" font-size="8.5" text-anchor="middle" stroke="#000" stroke-width="0.25">% of mice survival</text></g>
<path d="M370.5,243 H401.3 V248.9 H402.5 V273.9 H410.2 V279.3 H411.5 V292.4 H412.8 V298.5 H433.6 V304.8 H444.1 V323 H457.7 V329.5 H458.9 V336 H481.5 V342.2 H505.2 V348.3" fill="none" stroke="#cc1020" stroke-width="1.5"/>
<path d="M336.3,243 H370.5 V249.3 H371.8 V256.5 H373 V263.1 H375.7 V270.2 H377.3 V277.2 H378.8 V284.6 H381.6 V291.3 H386.7 V306.1 H388 V311.8 H392.7 V326 H396.9 V333.2 H398.4 V340.2 H403.1 V354 H413.6 V361" fill="none" stroke="#0a36c0" stroke-width="1.5"/>
<line x1="425.8" y1="253.8" x2="438.8" y2="253.8" stroke="#0a36c0" stroke-width="1.5"/>
<line x1="425.8" y1="267.4" x2="438.8" y2="267.4" stroke="#cc1020" stroke-width="1.5"/>
<text x="442" y="256.7" font-size="7.4" text-anchor="start" font-weight="normal" fill="#000" stroke="#000" stroke-width="0.22" >U2932 Mock</text>
<text x="442" y="270.3" font-size="7.4" text-anchor="start" font-weight="normal" fill="#000" stroke="#000" stroke-width="0.22" >U2932 HGAL</text>
<rect x="0.5" y="0.5" width="519" height="395" fill="none" stroke="#000" stroke-width="1"/>
</svg></body></html>
